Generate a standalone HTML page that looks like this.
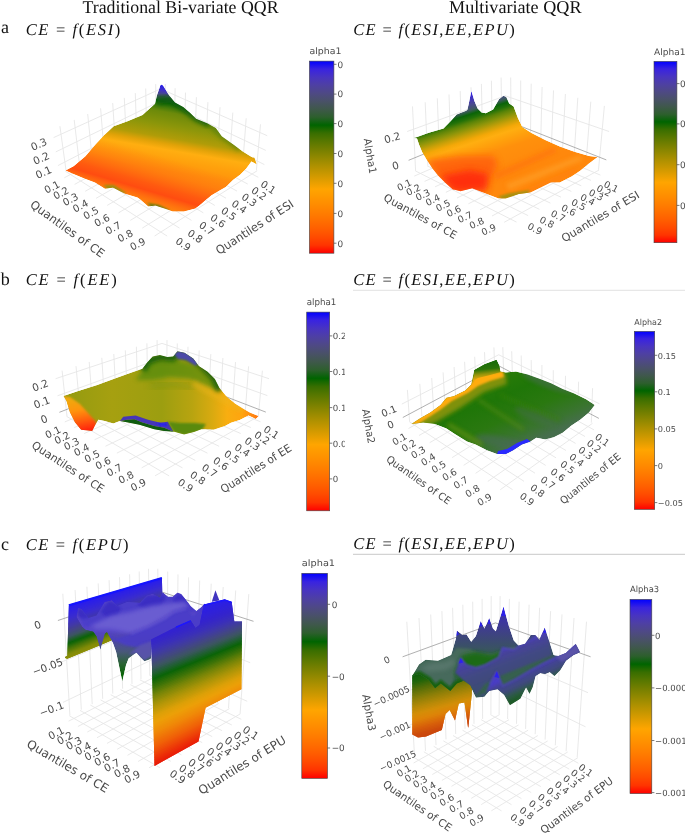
<!DOCTYPE html><html><head><meta charset="utf-8"><title>QQR figure</title><style>html,body{margin:0;padding:0;background:#fff}svg{display:block;will-change:transform}text{text-rendering:geometricPrecision}</style></head><body><svg width="685" height="834" viewBox="0 0 685 834"><defs><linearGradient id="cb" x1="0" y1="1" x2="0" y2="0"><stop offset="0.0000" stop-color="#ff0000"/><stop offset="0.0417" stop-color="#ff3400"/><stop offset="0.0833" stop-color="#ff4b00"/><stop offset="0.1250" stop-color="#ff5e00"/><stop offset="0.1667" stop-color="#ff6e00"/><stop offset="0.2083" stop-color="#ff7d00"/><stop offset="0.2500" stop-color="#ff8b00"/><stop offset="0.2917" stop-color="#ff9800"/><stop offset="0.3333" stop-color="#ffa500"/><stop offset="0.3750" stop-color="#e39e00"/><stop offset="0.4167" stop-color="#c79700"/><stop offset="0.4583" stop-color="#ac9000"/><stop offset="0.5000" stop-color="#908800"/><stop offset="0.5417" stop-color="#747f00"/><stop offset="0.5833" stop-color="#577700"/><stop offset="0.6250" stop-color="#386e00"/><stop offset="0.6667" stop-color="#006400"/><stop offset="0.7083" stop-color="#2d5f2d"/><stop offset="0.7500" stop-color="#3f584b"/><stop offset="0.7917" stop-color="#495168"/><stop offset="0.8333" stop-color="#4e4985"/><stop offset="0.8750" stop-color="#4e40a3"/><stop offset="0.9167" stop-color="#4834c1"/><stop offset="0.9583" stop-color="#3923e0"/><stop offset="1.0000" stop-color="#0000ff"/></linearGradient><filter id="b1" x="-20%" y="-20%" width="140%" height="140%"><feGaussianBlur stdDeviation="1"/></filter><filter id="b2" x="-20%" y="-20%" width="140%" height="140%"><feGaussianBlur stdDeviation="2"/></filter><filter id="b3" x="-30%" y="-30%" width="160%" height="160%"><feGaussianBlur stdDeviation="3.5"/></filter><filter id="b5" x="-30%" y="-30%" width="160%" height="160%"><feGaussianBlur stdDeviation="6"/></filter><clipPath id="leftclip"><rect x="0" y="0" width="344.8" height="834"/></clipPath><clipPath id="leftclipA"><rect x="0" y="0" width="344" height="834"/></clipPath><clipPath id="cA"><path d="M65.7,170.5 L73.7,166.2 L85.5,156.2 L95.0,145.0 L103.7,135.5 L113.7,126.2 L127.5,121.2 L142.5,115.0 L155.0,103.7 L157.0,95.0 L160.5,85.0 L162.0,84.5 L163.4,86.0 L169.2,95.4 L175.0,102.4 L183.2,107.0 L190.2,112.9 L196.1,118.7 L207.7,123.4 L215.9,128.1 L221.8,136.2 L233.4,144.4 L242.8,151.4 L252.1,157.3 L254.5,157.6 L256.9,164.5 L251.4,161.5 L246.3,168.6 L240.1,174.7 L233.0,179.9 L225.8,187.0 L218.7,191.1 L211.5,195.2 L205.4,200.3 L199.3,205.4 L195.2,208.5 L183.9,211.5 L172.7,211.5 L164.5,208.5 L155.3,205.4 L148.2,206.4 L140.0,199.3 L137.5,197.5 L125.0,193.7 L113.0,187.5 L105.0,188.7 L95.0,182.5 L85.0,178.7 L71.2,173.0Z"/></clipPath><linearGradient id="gA" gradientUnits="userSpaceOnUse" x1="162" y1="84" x2="140.75" y2="207.125"><stop offset="0.0" stop-color="#2018f0"/><stop offset="0.048" stop-color="#4030c8"/><stop offset="0.088" stop-color="#465078"/><stop offset="0.136" stop-color="#0a6408"/><stop offset="0.176" stop-color="#3f7a0a"/><stop offset="0.216" stop-color="#6c8a0a"/><stop offset="0.32" stop-color="#8c960a"/><stop offset="0.416" stop-color="#b09c08"/><stop offset="0.464" stop-color="#e0a208"/><stop offset="0.512" stop-color="#ffae10"/><stop offset="0.592" stop-color="#ffa00c"/><stop offset="0.68" stop-color="#ff920c"/><stop offset="1.0" stop-color="#ff8c0c"/></linearGradient><linearGradient id="gA2" gradientUnits="userSpaceOnUse" x1="77.2" y1="131.2" x2="61.8" y2="183"><stop offset="0" stop-color="#ff6a10" stop-opacity="0"/><stop offset="0.28" stop-color="#ff6410" stop-opacity="0.4"/><stop offset="0.55" stop-color="#ff5410" stop-opacity="0.9"/><stop offset="0.68" stop-color="#ff4c10" stop-opacity="1"/><stop offset="0.83" stop-color="#ff6010" stop-opacity="0.55"/><stop offset="1" stop-color="#ff7010" stop-opacity="0"/></linearGradient><clipPath id="cB"><path d="M413.4,138.0 L417.0,137.0 L428.9,132.8 L443.5,128.4 L450.8,121.1 L456.6,114.4 L465.4,110.9 L467.3,110.0 L468.8,103.4 L470.3,96.0 L471.4,91.1 L472.8,95.5 L474.5,101.3 L477.6,108.5 L481.6,112.6 L485.8,113.2 L493.1,109.4 L499.0,99.2 L503.4,95.7 L506.3,96.9 L509.2,103.6 L513.6,106.5 L518.0,118.2 L522.3,126.9 L531.1,132.8 L545.2,140.1 L559.8,146.5 L574.4,151.8 L589.0,156.1 L597.7,157.0 L589.0,163.4 L580.2,170.7 L571.5,176.6 L559.8,182.4 L551.0,182.4 L542.3,186.8 L530.6,192.6 L518.9,194.1 L505.8,198.5 L498.5,198.5 L486.8,194.1 L472.2,188.2 L460.5,191.2 L454.7,189.7 L452.8,189.6 L445.5,183.0 L438.2,175.7 L432.4,168.4 L426.5,159.6 L422.2,152.3 L419.2,145.0 L417.0,138.5Z"/></clipPath><linearGradient id="gB" gradientUnits="userSpaceOnUse" x1="404.748" y1="111.372" x2="431.94" y2="195.06"><stop offset="0.0" stop-color="#2018f0"/><stop offset="0.0795" stop-color="#4030c8"/><stop offset="0.1591" stop-color="#4a4a90"/><stop offset="0.2159" stop-color="#3f5a60"/><stop offset="0.2614" stop-color="#0a6408"/><stop offset="0.3068" stop-color="#247208"/><stop offset="0.3523" stop-color="#5a8408"/><stop offset="0.4091" stop-color="#8a940a"/><stop offset="0.4773" stop-color="#c8a008"/><stop offset="0.5341" stop-color="#f4a808"/><stop offset="0.5795" stop-color="#ffae10"/><stop offset="0.6591" stop-color="#ffa00c"/><stop offset="0.75" stop-color="#ff900c"/><stop offset="1.0" stop-color="#ff880c"/></linearGradient><clipPath id="cC"><path d="M63.5,396.0 L76.7,391.6 L97.2,384.9 L117.6,377.6 L132.2,372.3 L142.4,368.8 L146.8,363.0 L152.6,356.5 L159.9,355.1 L167.2,357.1 L173.1,356.5 L177.4,351.3 L184.5,352.7 L193.2,358.6 L198.8,365.9 L207.6,371.7 L214.9,379.0 L219.3,387.8 L226.6,396.5 L235.3,403.8 L242.6,408.2 L249.9,412.6 L258.7,416.1 L255.8,419.0 L248.5,415.5 L239.7,419.9 L231.0,422.8 L225.0,425.9 L213.8,429.7 L201.4,429.2 L194.0,432.1 L184.0,434.6 L174.1,431.7 L164.2,430.9 L154.3,429.2 L139.4,424.7 L129.4,422.7 L120.0,421.0 L113.3,423.5 L104.6,421.0 L98.4,419.7 L94.7,425.9 L92.2,430.9 L81.1,429.7 L74.9,422.2 L69.9,412.3 L66.5,401.0Z"/></clipPath><linearGradient id="gC" gradientUnits="userSpaceOnUse" x1="62" y1="400" x2="259" y2="400"><stop offset="0.0" stop-color="#929a10"/><stop offset="0.2538" stop-color="#a6a010"/><stop offset="0.5076" stop-color="#9c9e10"/><stop offset="0.6599" stop-color="#b8a410"/><stop offset="0.7614" stop-color="#d8aa10"/><stop offset="0.8376" stop-color="#f8ae10"/><stop offset="0.9137" stop-color="#ffa410"/><stop offset="1.0" stop-color="#ff7410"/></linearGradient><linearGradient id="gCdip" gradientUnits="userSpaceOnUse" x1="80" y1="398" x2="86" y2="431"><stop offset="0" stop-color="#f0a810"/><stop offset="0.35" stop-color="#ff9410"/><stop offset="0.7" stop-color="#ff5a10"/><stop offset="1" stop-color="#ff2010"/></linearGradient><clipPath id="cD"><path d="M411.4,424.0 L420.2,418.2 L430.4,412.4 L440.6,405.1 L446.4,397.8 L453.7,396.3 L465.4,390.5 L471.3,384.6 L474.2,370.0 L484.4,364.2 L496.5,359.8 L499.5,366.0 L500.4,371.5 L505.8,372.4 L516.0,371.5 L527.7,374.4 L539.4,378.8 L551.0,383.2 L562.7,389.0 L574.4,393.4 L586.1,399.2 L594.8,405.1 L589.0,412.4 L580.2,419.7 L571.5,425.5 L562.7,432.8 L553.9,437.2 L545.2,439.5 L536.4,437.8 L530.6,441.6 L521.8,444.5 L513.1,450.3 L505.8,454.1 L497.0,454.1 L486.8,450.3 L475.6,444.5 L466.9,441.6 L455.2,434.3 L446.4,428.4 L434.8,424.0 L423.1,422.6Z"/></clipPath><linearGradient id="gD" gradientUnits="userSpaceOnUse" x1="470" y1="385" x2="500" y2="455"><stop offset="0" stop-color="#2a7c08"/><stop offset="0.3" stop-color="#1f7608"/><stop offset="0.6" stop-color="#2a7810"/><stop offset="0.85" stop-color="#3a7430"/><stop offset="1" stop-color="#466e4c"/></linearGradient><linearGradient id="gDw" gradientUnits="userSpaceOnUse" x1="486" y1="360" x2="488" y2="380"><stop offset="0" stop-color="#14680a"/><stop offset="0.45" stop-color="#2a7408"/><stop offset="0.7" stop-color="#9a960a"/><stop offset="1" stop-color="#ffae10"/></linearGradient><clipPath id="cE1"><path d="M68.9,604.6 L161.9,577.3 L163.0,625.0 L115.0,639.0 L99.8,646.0 L82.1,653.3 L67.7,658.9 L64.1,657.6 L67.3,655.7Z"/></clipPath><clipPath id="cE2"><path d="M76.5,617.1 L78.1,608.3 L81.3,609.1 L88.5,617.9 L96.6,615.5 L104.6,601.9 L111.8,600.3 L117.4,605.9 L127.1,601.9 L139.9,602.7 L146.4,595.4 L152.8,593.8 L160.0,597.8 L162.6,592.1 L168.0,596.8 L172.7,596.8 L177.4,592.5 L181.2,594.0 L185.0,598.7 L190.7,606.3 L196.4,611.1 L201.2,607.3 L205.0,603.5 L206.0,632.0 L152.0,642.0 L151.0,658.6 L148.3,659.9 L144.4,661.2 L140.4,657.3 L136.5,652.7 L134.5,654.0 L128.6,658.6 L126.0,665.2 L122.3,681.6 L119.4,667.8 L116.1,652.0 L112.9,642.9 L106.9,632.3 L105.0,633.7 L100.4,650.1 L96.4,636.3 L93.1,631.7 L85.3,629.7 L82.1,626.8Z"/></clipPath><linearGradient id="gE2" gradientUnits="userSpaceOnUse" x1="0" y1="630" x2="0" y2="682"><stop offset="0" stop-color="#5646c8"/><stop offset="0.2" stop-color="#4e46a8"/><stop offset="0.42" stop-color="#485878"/><stop offset="0.65" stop-color="#2a6434"/><stop offset="0.85" stop-color="#0a6408"/><stop offset="1" stop-color="#0a6408"/></linearGradient><clipPath id="cE4"><path d="M151.3,639.5 L164.2,632.9 L175.0,627.5 L190.7,620.5 L195.5,628.1 L199.6,625.0 L203.8,604.7 L224.7,599.5 L231.7,602.1 L234.3,621.4 L242.0,621.4 L241.4,689.3 L205.6,707.7 L198.5,741.4 L154.5,765.9Z"/></clipPath><clipPath id="cF1"><path d="M412.3,675.0 L419.0,664.5 L440.0,660.0 L472.1,670.0 L472.1,683.5 L471.7,694.9 L468.2,728.5 L464.5,702.5 L458.8,703.4 L455.0,720.5 L449.7,710.1 L445.5,713.9 L441.8,730.0 L426.0,736.5 L418.0,737.5 L412.3,734.5Z"/></clipPath><clipPath id="cF2"><path d="M412.3,676.0 L419.0,664.5 L425.6,659.8 L438.0,660.7 L451.2,655.0 L456.0,638.0 L456.9,630.4 L462.6,635.1 L466.4,634.2 L471.2,641.8 L475.9,636.1 L480.7,620.9 L484.5,628.5 L489.2,618.0 L493.0,628.5 L495.8,631.3 L503.5,606.6 L509.0,626.5 L513.8,640.5 L518.5,645.5 L525.1,643.7 L530.8,635.1 L535.5,635.1 L539.3,639.9 L544.7,627.5 L548.8,639.9 L553.6,655.0 L558.3,656.0 L565.9,653.1 L571.6,647.4 L575.8,643.7 L580.1,652.2 L573.5,655.0 L565.9,660.7 L560.2,670.2 L554.5,675.9 L549.8,672.1 L545.0,674.0 L540.3,673.1 L535.5,675.9 L532.7,687.3 L529.5,693.9 L526.1,687.3 L520.4,698.7 L509.9,705.3 L504.2,694.9 L497.6,689.2 L489.2,691.1 L484.5,696.8 L475.9,697.7 L470.2,685.4 L463.6,680.7 L456.9,683.5 L450.3,691.1 L440.8,683.5 L435.1,688.3 L428.5,679.7 L419.0,674.0Z"/></clipPath><linearGradient id="gF0" gradientUnits="userSpaceOnUse" x1="0" y1="606" x2="0" y2="664"><stop offset="0" stop-color="#3226d8"/><stop offset="0.2" stop-color="#3c32a8"/><stop offset="0.4" stop-color="#3f3e8c"/><stop offset="0.6" stop-color="#3c4a72"/><stop offset="0.8" stop-color="#38585a"/><stop offset="1" stop-color="#36604e"/></linearGradient><linearGradient id="gF1" gradientUnits="userSpaceOnUse" x1="500" y1="648" x2="511.1" y2="677.8"><stop offset="0" stop-color="#4a3cc4"/><stop offset="0.18" stop-color="#46429c"/><stop offset="0.5" stop-color="#424884"/><stop offset="1" stop-color="#3c4c74"/></linearGradient><linearGradient id="gF2" gradientUnits="userSpaceOnUse" x1="530" y1="667" x2="540.4" y2="689.6"><stop offset="0" stop-color="#4a3cc4"/><stop offset="0.18" stop-color="#444298"/><stop offset="0.5" stop-color="#3e4a7a"/><stop offset="0.75" stop-color="#2c5a44"/><stop offset="1" stop-color="#1a5a20"/></linearGradient></defs><text x="82.5" y="13.0" font-family="'Liberation Serif',serif" font-size="18" text-anchor="start" fill="#111" textLength="196" lengthAdjust="spacingAndGlyphs">Traditional Bi-variate QQR</text>
<text x="449.0" y="13.0" font-family="'Liberation Serif',serif" font-size="18" text-anchor="start" fill="#111" textLength="132.5" lengthAdjust="spacingAndGlyphs">Multivariate QQR</text>
<text x="1.0" y="32.5" font-family="'Liberation Serif',serif" font-size="18" text-anchor="start" fill="#111">a</text>
<text x="0.8" y="284.8" font-family="'Liberation Serif',serif" font-size="18" text-anchor="start" fill="#111">b</text>
<text x="1.0" y="549.6" font-family="'Liberation Serif',serif" font-size="18" text-anchor="start" fill="#111">c</text>
<text x="25.7" y="34.5" font-family="'Liberation Serif',serif" font-size="16.5" text-anchor="start" fill="#111" font-style="italic" textLength="94.6" lengthAdjust="spacing">CE <tspan font-style="normal">=</tspan> f<tspan font-style="normal">(</tspan>ESI<tspan font-style="normal">)</tspan></text>
<text x="353.2" y="34.5" font-family="'Liberation Serif',serif" font-size="16.5" text-anchor="start" fill="#111" font-style="italic" textLength="161.5" lengthAdjust="spacing">CE <tspan font-style="normal">=</tspan> f<tspan font-style="normal">(</tspan>ESI<tspan font-style="normal">,</tspan>EE<tspan font-style="normal">,</tspan>EPU<tspan font-style="normal">)</tspan></text>
<text x="25.7" y="285.2" font-family="'Liberation Serif',serif" font-size="16.5" text-anchor="start" fill="#111" font-style="italic" textLength="91.1" lengthAdjust="spacing">CE <tspan font-style="normal">=</tspan> f<tspan font-style="normal">(</tspan>EE<tspan font-style="normal">)</tspan></text>
<text x="353.2" y="284.8" font-family="'Liberation Serif',serif" font-size="16.5" text-anchor="start" fill="#111" font-style="italic" textLength="161.5" lengthAdjust="spacing">CE <tspan font-style="normal">=</tspan> f<tspan font-style="normal">(</tspan>ESI<tspan font-style="normal">,</tspan>EE<tspan font-style="normal">,</tspan>EPU<tspan font-style="normal">)</tspan></text>
<text x="25.7" y="550.0" font-family="'Liberation Serif',serif" font-size="16.5" text-anchor="start" fill="#111" font-style="italic" textLength="102.8" lengthAdjust="spacing">CE <tspan font-style="normal">=</tspan> f<tspan font-style="normal">(</tspan>EPU<tspan font-style="normal">)</tspan></text>
<text x="353.2" y="549.0" font-family="'Liberation Serif',serif" font-size="16.5" text-anchor="start" fill="#111" font-style="italic" textLength="161.5" lengthAdjust="spacing">CE <tspan font-style="normal">=</tspan> f<tspan font-style="normal">(</tspan>ESI<tspan font-style="normal">,</tspan>EE<tspan font-style="normal">,</tspan>EPU<tspan font-style="normal">)</tspan></text>
<line x1="353" y1="290.3" x2="685" y2="290.3" stroke="#e2e2e2" stroke-width="1"/>
<line x1="353" y1="554.3" x2="685" y2="554.3" stroke="#c8c8c8" stroke-width="1"/>
<rect x="309.4" y="61.1" width="24.5" height="192.1" fill="url(#cb)"/>
<rect x="309.4" y="61.1" width="24.5" height="192.1" fill="none" stroke="#444" stroke-width="0.6"/>
<text x="309.5" y="54.0" font-family="'DejaVu Sans','Liberation Sans',sans-serif" font-size="9" text-anchor="start" fill="#4a4a4a" textLength="32" lengthAdjust="spacingAndGlyphs">alpha1</text>
<line x1="333.9" y1="64.3" x2="336.5" y2="64.3" stroke="#444" stroke-width="0.7"/>
<text x="337.6" y="67.6" font-family="'DejaVu Sans','Liberation Sans',sans-serif" font-size="8.9" text-anchor="start" fill="#4a4a4a" clip-path="url(#leftclipA)">0.35</text>
<line x1="333.9" y1="94.1" x2="336.5" y2="94.1" stroke="#444" stroke-width="0.7"/>
<text x="337.6" y="97.4" font-family="'DejaVu Sans','Liberation Sans',sans-serif" font-size="8.9" text-anchor="start" fill="#4a4a4a" clip-path="url(#leftclipA)">0.3</text>
<line x1="333.9" y1="123.6" x2="336.5" y2="123.6" stroke="#444" stroke-width="0.7"/>
<text x="337.6" y="126.9" font-family="'DejaVu Sans','Liberation Sans',sans-serif" font-size="8.9" text-anchor="start" fill="#4a4a4a" clip-path="url(#leftclipA)">0.25</text>
<line x1="333.9" y1="153.5" x2="336.5" y2="153.5" stroke="#444" stroke-width="0.7"/>
<text x="337.6" y="156.8" font-family="'DejaVu Sans','Liberation Sans',sans-serif" font-size="8.9" text-anchor="start" fill="#4a4a4a" clip-path="url(#leftclipA)">0.2</text>
<line x1="333.9" y1="183.3" x2="336.5" y2="183.3" stroke="#444" stroke-width="0.7"/>
<text x="337.6" y="186.6" font-family="'DejaVu Sans','Liberation Sans',sans-serif" font-size="8.9" text-anchor="start" fill="#4a4a4a" clip-path="url(#leftclipA)">0.15</text>
<line x1="333.9" y1="213.4" x2="336.5" y2="213.4" stroke="#444" stroke-width="0.7"/>
<text x="337.6" y="216.7" font-family="'DejaVu Sans','Liberation Sans',sans-serif" font-size="8.9" text-anchor="start" fill="#4a4a4a" clip-path="url(#leftclipA)">0.1</text>
<line x1="333.9" y1="243.2" x2="336.5" y2="243.2" stroke="#444" stroke-width="0.7"/>
<text x="337.6" y="246.5" font-family="'DejaVu Sans','Liberation Sans',sans-serif" font-size="8.9" text-anchor="start" fill="#4a4a4a" clip-path="url(#leftclipA)">0.05</text>
<rect x="654" y="61.4" width="22.9" height="181.3" fill="url(#cb)"/>
<rect x="654" y="61.4" width="22.9" height="181.3" fill="none" stroke="#444" stroke-width="0.6"/>
<text x="654.0" y="55.0" font-family="'DejaVu Sans','Liberation Sans',sans-serif" font-size="9" text-anchor="start" fill="#4a4a4a" textLength="31.5" lengthAdjust="spacingAndGlyphs">Alpha1</text>
<line x1="676.9" y1="83.6" x2="679.5" y2="83.6" stroke="#444" stroke-width="0.7"/>
<text x="680.0" y="86.9" font-family="'DejaVu Sans','Liberation Sans',sans-serif" font-size="8.9" text-anchor="start" fill="#4a4a4a">0.3</text>
<line x1="676.9" y1="123.9" x2="679.5" y2="123.9" stroke="#444" stroke-width="0.7"/>
<text x="680.0" y="127.2" font-family="'DejaVu Sans','Liberation Sans',sans-serif" font-size="8.9" text-anchor="start" fill="#4a4a4a">0.2</text>
<line x1="676.9" y1="164.7" x2="679.5" y2="164.7" stroke="#444" stroke-width="0.7"/>
<text x="680.0" y="168.0" font-family="'DejaVu Sans','Liberation Sans',sans-serif" font-size="8.9" text-anchor="start" fill="#4a4a4a">0.1</text>
<line x1="676.9" y1="205.4" x2="679.5" y2="205.4" stroke="#444" stroke-width="0.7"/>
<text x="680.0" y="208.7" font-family="'DejaVu Sans','Liberation Sans',sans-serif" font-size="8.9" text-anchor="start" fill="#4a4a4a">0</text>
<rect x="306.7" y="312.1" width="23.0" height="198.7" fill="url(#cb)"/>
<rect x="306.7" y="312.1" width="23.0" height="198.7" fill="none" stroke="#444" stroke-width="0.6"/>
<text x="306.7" y="305.0" font-family="'DejaVu Sans','Liberation Sans',sans-serif" font-size="9" text-anchor="start" fill="#4a4a4a" textLength="29.6" lengthAdjust="spacingAndGlyphs">alpha1</text>
<line x1="329.7" y1="335.9" x2="332.3" y2="335.9" stroke="#444" stroke-width="0.7"/>
<text x="332.8" y="339.2" font-family="'DejaVu Sans','Liberation Sans',sans-serif" font-size="8.6" text-anchor="start" fill="#4a4a4a" clip-path="url(#leftclip)">0.2</text>
<line x1="329.7" y1="371.5" x2="332.3" y2="371.5" stroke="#444" stroke-width="0.7"/>
<text x="332.8" y="374.8" font-family="'DejaVu Sans','Liberation Sans',sans-serif" font-size="8.6" text-anchor="start" fill="#4a4a4a" clip-path="url(#leftclip)">0.15</text>
<line x1="329.7" y1="407.6" x2="332.3" y2="407.6" stroke="#444" stroke-width="0.7"/>
<text x="332.8" y="410.9" font-family="'DejaVu Sans','Liberation Sans',sans-serif" font-size="8.6" text-anchor="start" fill="#4a4a4a" clip-path="url(#leftclip)">0.1</text>
<line x1="329.7" y1="443.2" x2="332.3" y2="443.2" stroke="#444" stroke-width="0.7"/>
<text x="332.8" y="446.5" font-family="'DejaVu Sans','Liberation Sans',sans-serif" font-size="8.6" text-anchor="start" fill="#4a4a4a" clip-path="url(#leftclip)">0.05</text>
<line x1="329.7" y1="478.9" x2="332.3" y2="478.9" stroke="#444" stroke-width="0.7"/>
<text x="332.8" y="482.2" font-family="'DejaVu Sans','Liberation Sans',sans-serif" font-size="8.6" text-anchor="start" fill="#4a4a4a" clip-path="url(#leftclip)">0</text>
<rect x="634.3" y="331.4" width="20.4" height="178.0" fill="url(#cb)"/>
<rect x="634.3" y="331.4" width="20.4" height="178.0" fill="none" stroke="#444" stroke-width="0.6"/>
<text x="634.3" y="325.1" font-family="'DejaVu Sans','Liberation Sans',sans-serif" font-size="8.2" text-anchor="start" fill="#4a4a4a" textLength="27.7" lengthAdjust="spacingAndGlyphs">Alpha2</text>
<line x1="654.7" y1="355.3" x2="657.3" y2="355.3" stroke="#444" stroke-width="0.7"/>
<text x="657.8" y="358.6" font-family="'DejaVu Sans','Liberation Sans',sans-serif" font-size="8.2" text-anchor="start" fill="#4a4a4a">0.15</text>
<line x1="654.7" y1="391.8" x2="657.3" y2="391.8" stroke="#444" stroke-width="0.7"/>
<text x="657.8" y="395.1" font-family="'DejaVu Sans','Liberation Sans',sans-serif" font-size="8.2" text-anchor="start" fill="#4a4a4a">0.1</text>
<line x1="654.7" y1="428.9" x2="657.3" y2="428.9" stroke="#444" stroke-width="0.7"/>
<text x="657.8" y="432.2" font-family="'DejaVu Sans','Liberation Sans',sans-serif" font-size="8.2" text-anchor="start" fill="#4a4a4a">0.05</text>
<line x1="654.7" y1="465.6" x2="657.3" y2="465.6" stroke="#444" stroke-width="0.7"/>
<text x="657.8" y="468.9" font-family="'DejaVu Sans','Liberation Sans',sans-serif" font-size="8.2" text-anchor="start" fill="#4a4a4a">0</text>
<line x1="654.7" y1="502.6" x2="657.3" y2="502.6" stroke="#444" stroke-width="0.7"/>
<text x="657.8" y="505.9" font-family="'DejaVu Sans','Liberation Sans',sans-serif" font-size="8.2" text-anchor="start" fill="#4a4a4a">−0.05</text>
<rect x="301.8" y="573.3" width="25.7" height="205.1" fill="url(#cb)"/>
<rect x="301.8" y="573.3" width="25.7" height="205.1" fill="none" stroke="#444" stroke-width="0.6"/>
<text x="301.8" y="565.7" font-family="'DejaVu Sans','Liberation Sans',sans-serif" font-size="9" text-anchor="start" fill="#4a4a4a" textLength="33.3" lengthAdjust="spacingAndGlyphs">alpha1</text>
<line x1="327.5" y1="604.3" x2="330.1" y2="604.3" stroke="#444" stroke-width="0.7"/>
<text x="331.7" y="607.6" font-family="'DejaVu Sans','Liberation Sans',sans-serif" font-size="8.9" text-anchor="start" fill="#4a4a4a" clip-path="url(#leftclip)">0</text>
<line x1="327.5" y1="676.2" x2="330.1" y2="676.2" stroke="#444" stroke-width="0.7"/>
<text x="331.7" y="679.5" font-family="'DejaVu Sans','Liberation Sans',sans-serif" font-size="8.9" text-anchor="start" fill="#4a4a4a" clip-path="url(#leftclip)">−0.05</text>
<line x1="327.5" y1="748" x2="330.1" y2="748" stroke="#444" stroke-width="0.7"/>
<text x="331.7" y="751.3" font-family="'DejaVu Sans','Liberation Sans',sans-serif" font-size="8.9" text-anchor="start" fill="#4a4a4a" clip-path="url(#leftclip)">−0.1</text>
<rect x="630" y="599.4" width="21.8" height="194.2" fill="url(#cb)"/>
<rect x="630" y="599.4" width="21.8" height="194.2" fill="none" stroke="#444" stroke-width="0.6"/>
<text x="630.0" y="592.1" font-family="'DejaVu Sans','Liberation Sans',sans-serif" font-size="8.5" text-anchor="start" fill="#4a4a4a" textLength="29.1" lengthAdjust="spacingAndGlyphs">Alpha3</text>
<line x1="651.8" y1="635.3" x2="654.4" y2="635.3" stroke="#444" stroke-width="0.7"/>
<text x="655.1" y="638.6" font-family="'DejaVu Sans','Liberation Sans',sans-serif" font-size="8.5" text-anchor="start" fill="#4a4a4a">0</text>
<line x1="651.8" y1="687.9" x2="654.4" y2="687.9" stroke="#444" stroke-width="0.7"/>
<text x="655.1" y="691.2" font-family="'DejaVu Sans','Liberation Sans',sans-serif" font-size="8.5" text-anchor="start" fill="#4a4a4a">−0.0005</text>
<line x1="651.8" y1="740.5" x2="654.4" y2="740.5" stroke="#444" stroke-width="0.7"/>
<text x="655.1" y="743.8" font-family="'DejaVu Sans','Liberation Sans',sans-serif" font-size="8.5" text-anchor="start" fill="#4a4a4a">−0.001</text>
<line x1="651.8" y1="792.6" x2="654.4" y2="792.6" stroke="#444" stroke-width="0.7"/>
<text x="655.1" y="795.9" font-family="'DejaVu Sans','Liberation Sans',sans-serif" font-size="8.5" text-anchor="start" fill="#4a4a4a">−0.0015</text>
<line x1="64.3" y1="177.8" x2="165.7" y2="123.2" stroke="#e6e6e6" stroke-width="0.9"/>
<line x1="74.6" y1="184.4" x2="176.2" y2="128.7" stroke="#e6e6e6" stroke-width="0.9"/>
<line x1="85.2" y1="191.3" x2="187.0" y2="134.3" stroke="#e6e6e6" stroke-width="0.9"/>
<line x1="96.1" y1="198.3" x2="198.1" y2="140.0" stroke="#e6e6e6" stroke-width="0.9"/>
<line x1="107.2" y1="205.4" x2="209.4" y2="145.9" stroke="#e6e6e6" stroke-width="0.9"/>
<line x1="118.6" y1="212.8" x2="220.9" y2="151.9" stroke="#e6e6e6" stroke-width="0.9"/>
<line x1="130.3" y1="220.4" x2="232.7" y2="158.0" stroke="#e6e6e6" stroke-width="0.9"/>
<line x1="142.3" y1="228.1" x2="244.8" y2="164.3" stroke="#e6e6e6" stroke-width="0.9"/>
<line x1="154.6" y1="236.0" x2="257.2" y2="170.7" stroke="#e6e6e6" stroke-width="0.9"/>
<line x1="155.3" y1="123.3" x2="258.3" y2="177.3" stroke="#e6e6e6" stroke-width="0.9"/>
<line x1="144.8" y1="128.8" x2="247.8" y2="184.1" stroke="#e6e6e6" stroke-width="0.9"/>
<line x1="134.1" y1="134.5" x2="237.0" y2="191.1" stroke="#e6e6e6" stroke-width="0.9"/>
<line x1="123.2" y1="140.4" x2="226.0" y2="198.2" stroke="#e6e6e6" stroke-width="0.9"/>
<line x1="112.1" y1="146.3" x2="214.8" y2="205.4" stroke="#e6e6e6" stroke-width="0.9"/>
<line x1="100.8" y1="152.3" x2="203.3" y2="212.8" stroke="#e6e6e6" stroke-width="0.9"/>
<line x1="89.2" y1="158.5" x2="191.5" y2="220.4" stroke="#e6e6e6" stroke-width="0.9"/>
<line x1="77.4" y1="164.8" x2="179.5" y2="228.1" stroke="#e6e6e6" stroke-width="0.9"/>
<line x1="65.3" y1="171.2" x2="167.2" y2="236.1" stroke="#e6e6e6" stroke-width="0.9"/>
<line x1="155.9" y1="122.9" x2="155.7" y2="84.1" stroke="#e6e6e6" stroke-width="0.9"/>
<line x1="146.5" y1="128.0" x2="145.7" y2="88.5" stroke="#e6e6e6" stroke-width="0.9"/>
<line x1="136.6" y1="133.2" x2="135.3" y2="93.1" stroke="#e6e6e6" stroke-width="0.9"/>
<line x1="126.3" y1="138.8" x2="124.3" y2="97.9" stroke="#e6e6e6" stroke-width="0.9"/>
<line x1="115.4" y1="144.5" x2="112.7" y2="103.0" stroke="#e6e6e6" stroke-width="0.9"/>
<line x1="104.0" y1="150.6" x2="100.6" y2="108.3" stroke="#e6e6e6" stroke-width="0.9"/>
<line x1="92.0" y1="157.0" x2="87.7" y2="114.0" stroke="#e6e6e6" stroke-width="0.9"/>
<line x1="79.4" y1="163.7" x2="74.2" y2="119.9" stroke="#e6e6e6" stroke-width="0.9"/>
<line x1="66.1" y1="170.8" x2="59.9" y2="126.2" stroke="#e6e6e6" stroke-width="0.9"/>
<line x1="57.9" y1="165.6" x2="160.5" y2="112.8" stroke="#e6e6e6" stroke-width="0.9"/>
<line x1="55.8" y1="151.9" x2="160.5" y2="101.0" stroke="#e6e6e6" stroke-width="0.9"/>
<line x1="53.6" y1="137.6" x2="160.5" y2="88.9" stroke="#e6e6e6" stroke-width="0.9"/>
<line x1="165.1" y1="122.9" x2="165.3" y2="84.0" stroke="#e6e6e6" stroke-width="0.9"/>
<line x1="174.6" y1="127.8" x2="175.1" y2="88.2" stroke="#e6e6e6" stroke-width="0.9"/>
<line x1="184.6" y1="133.0" x2="185.5" y2="92.6" stroke="#e6e6e6" stroke-width="0.9"/>
<line x1="195.1" y1="138.5" x2="196.4" y2="97.2" stroke="#e6e6e6" stroke-width="0.9"/>
<line x1="206.1" y1="144.2" x2="207.9" y2="102.1" stroke="#e6e6e6" stroke-width="0.9"/>
<line x1="217.7" y1="150.2" x2="220.0" y2="107.2" stroke="#e6e6e6" stroke-width="0.9"/>
<line x1="229.9" y1="156.6" x2="232.8" y2="112.6" stroke="#e6e6e6" stroke-width="0.9"/>
<line x1="242.8" y1="163.3" x2="246.2" y2="118.3" stroke="#e6e6e6" stroke-width="0.9"/>
<line x1="256.4" y1="170.3" x2="260.5" y2="124.3" stroke="#e6e6e6" stroke-width="0.9"/>
<line x1="160.5" y1="112.7" x2="264.4" y2="164.6" stroke="#e6e6e6" stroke-width="0.9"/>
<line x1="160.5" y1="100.9" x2="265.8" y2="150.4" stroke="#e6e6e6" stroke-width="0.9"/>
<line x1="160.5" y1="88.8" x2="267.2" y2="135.7" stroke="#e6e6e6" stroke-width="0.9"/>
<g clip-path="url(#cA)">
<path d="M65.7,170.5 L73.7,166.2 L85.5,156.2 L95.0,145.0 L103.7,135.5 L113.7,126.2 L127.5,121.2 L142.5,115.0 L155.0,103.7 L157.0,95.0 L160.5,85.0 L162.0,84.5 L163.4,86.0 L169.2,95.4 L175.0,102.4 L183.2,107.0 L190.2,112.9 L196.1,118.7 L207.7,123.4 L215.9,128.1 L221.8,136.2 L233.4,144.4 L242.8,151.4 L252.1,157.3 L254.5,157.6 L256.9,164.5 L251.4,161.5 L246.3,168.6 L240.1,174.7 L233.0,179.9 L225.8,187.0 L218.7,191.1 L211.5,195.2 L205.4,200.3 L199.3,205.4 L195.2,208.5 L183.9,211.5 L172.7,211.5 L164.5,208.5 L155.3,205.4 L148.2,206.4 L140.0,199.3 L137.5,197.5 L125.0,193.7 L113.0,187.5 L105.0,188.7 L95.0,182.5 L85.0,178.7 L71.2,173.0Z" fill="url(#gA)"/>
<path d="M65.7,170.5 L73.7,166.2 L85.5,156.2 L95.0,145.0 L103.7,135.5 L113.7,126.2 L127.5,121.2 L142.5,115.0 L155.0,103.7 L157.0,95.0 L160.5,85.0 L162.0,84.5 L163.4,86.0 L169.2,95.4 L175.0,102.4 L183.2,107.0 L190.2,112.9 L196.1,118.7 L207.7,123.4 L215.9,128.1 L221.8,136.2 L233.4,144.4 L242.8,151.4 L252.1,157.3 L254.5,157.6 L256.9,164.5 L251.4,161.5 L246.3,168.6 L240.1,174.7 L233.0,179.9 L225.8,187.0 L218.7,191.1 L211.5,195.2 L205.4,200.3 L199.3,205.4 L195.2,208.5 L183.9,211.5 L172.7,211.5 L164.5,208.5 L155.3,205.4 L148.2,206.4 L140.0,199.3 L137.5,197.5 L125.0,193.7 L113.0,187.5 L105.0,188.7 L95.0,182.5 L85.0,178.7 L71.2,173.0Z" fill="url(#gA2)"/>
<path d="M158,101 L170,99 L183,107 L197,118 L210,124" fill="none" stroke="#0a5c08" stroke-width="7" opacity="0.85" filter="url(#b2)"/>
<path d="M210,124 L222,136 L240,149" fill="none" stroke="#4a7a08" stroke-width="5" opacity="0.6" filter="url(#b2)"/>
<path d="M103.7,185 L113.7,185 L126.2,193 L120,194.5 L107.5,189.5Z" fill="#9a8e10" filter="url(#b1)"/>
<path d="M147,203 L158.7,205 L170,210.5 L162.5,211.5 L152.5,208.5Z" fill="#5f7a10" filter="url(#b1)"/>
</g>
<text font-family="'DejaVu Sans','Liberation Sans',sans-serif" font-size="10" text-anchor="middle" fill="#4a4a4a" transform="translate(52.0 187.0) rotate(-27.5)" y="3.6">0.1</text>
<text font-family="'DejaVu Sans','Liberation Sans',sans-serif" font-size="10" text-anchor="middle" fill="#4a4a4a" transform="translate(61.0 193.0) rotate(-27.5)" y="3.6">0.2</text>
<text font-family="'DejaVu Sans','Liberation Sans',sans-serif" font-size="10" text-anchor="middle" fill="#4a4a4a" transform="translate(70.4 199.3) rotate(-27.5)" y="3.6">0.3</text>
<text font-family="'DejaVu Sans','Liberation Sans',sans-serif" font-size="10" text-anchor="middle" fill="#4a4a4a" transform="translate(80.4 205.9) rotate(-27.5)" y="3.6">0.4</text>
<text font-family="'DejaVu Sans','Liberation Sans',sans-serif" font-size="10" text-anchor="middle" fill="#4a4a4a" transform="translate(90.9 212.9) rotate(-27.5)" y="3.6">0.5</text>
<text font-family="'DejaVu Sans','Liberation Sans',sans-serif" font-size="10" text-anchor="middle" fill="#4a4a4a" transform="translate(101.8 220.2) rotate(-27.5)" y="3.6">0.6</text>
<text font-family="'DejaVu Sans','Liberation Sans',sans-serif" font-size="10" text-anchor="middle" fill="#4a4a4a" transform="translate(113.2 227.8) rotate(-27.5)" y="3.6">0.7</text>
<text font-family="'DejaVu Sans','Liberation Sans',sans-serif" font-size="10" text-anchor="middle" fill="#4a4a4a" transform="translate(125.2 235.7) rotate(-27.5)" y="3.6">0.8</text>
<text font-family="'DejaVu Sans','Liberation Sans',sans-serif" font-size="10" text-anchor="middle" fill="#4a4a4a" transform="translate(137.6 244.0) rotate(-27.5)" y="3.6">0.9</text>
<text font-family="'DejaVu Sans','Liberation Sans',sans-serif" font-size="10" text-anchor="middle" fill="#4a4a4a" transform="translate(268.3 187.2) rotate(34)" y="3.6">0.1</text>
<text font-family="'DejaVu Sans','Liberation Sans',sans-serif" font-size="10" text-anchor="middle" fill="#4a4a4a" transform="translate(259.0 193.4) rotate(34)" y="3.6">0.2</text>
<text font-family="'DejaVu Sans','Liberation Sans',sans-serif" font-size="10" text-anchor="middle" fill="#4a4a4a" transform="translate(249.3 199.9) rotate(34)" y="3.6">0.3</text>
<text font-family="'DejaVu Sans','Liberation Sans',sans-serif" font-size="10" text-anchor="middle" fill="#4a4a4a" transform="translate(239.3 206.6) rotate(34)" y="3.6">0.4</text>
<text font-family="'DejaVu Sans','Liberation Sans',sans-serif" font-size="10" text-anchor="middle" fill="#4a4a4a" transform="translate(228.8 213.6) rotate(34)" y="3.6">0.5</text>
<text font-family="'DejaVu Sans','Liberation Sans',sans-serif" font-size="10" text-anchor="middle" fill="#4a4a4a" transform="translate(218.0 220.8) rotate(34)" y="3.6">0.6</text>
<text font-family="'DejaVu Sans','Liberation Sans',sans-serif" font-size="10" text-anchor="middle" fill="#4a4a4a" transform="translate(206.8 228.3) rotate(34)" y="3.6">0.7</text>
<text font-family="'DejaVu Sans','Liberation Sans',sans-serif" font-size="10" text-anchor="middle" fill="#4a4a4a" transform="translate(195.3 236.1) rotate(34)" y="3.6">0.8</text>
<text font-family="'DejaVu Sans','Liberation Sans',sans-serif" font-size="10" text-anchor="middle" fill="#4a4a4a" transform="translate(183.3 244.1) rotate(34)" y="3.6">0.9</text>
<text x="38.9" y="147.9" font-family="'DejaVu Sans','Liberation Sans',sans-serif" font-size="10.4" text-anchor="middle" fill="#4a4a4a" transform="rotate(-23.5 38.9 144.2)">0.3</text>
<text x="41.2" y="161.9" font-family="'DejaVu Sans','Liberation Sans',sans-serif" font-size="10.4" text-anchor="middle" fill="#4a4a4a" transform="rotate(-23.5 41.2 158.2)">0.2</text>
<text x="43.5" y="176.0" font-family="'DejaVu Sans','Liberation Sans',sans-serif" font-size="10.4" text-anchor="middle" fill="#4a4a4a" transform="rotate(-23.5 43.5 172.3)">0.1</text>
<text x="67.5" y="232.9" font-family="'DejaVu Sans','Liberation Sans',sans-serif" font-size="11.7" text-anchor="middle" fill="#4a4a4a" textLength="88.5" lengthAdjust="spacingAndGlyphs" transform="rotate(35.9 67.5 228.7)">Quantiles of CE</text>
<text x="254.5" y="231.2" font-family="'DejaVu Sans','Liberation Sans',sans-serif" font-size="11.7" text-anchor="middle" fill="#4a4a4a" textLength="90" lengthAdjust="spacingAndGlyphs" transform="rotate(-33 254.5 227)">Quantiles of ESI</text>
<line x1="414.3" y1="176.1" x2="511.5" y2="133.7" stroke="#e6e6e6" stroke-width="0.9"/>
<line x1="424.6" y1="181.4" x2="521.6" y2="137.9" stroke="#e6e6e6" stroke-width="0.9"/>
<line x1="435.1" y1="186.8" x2="531.9" y2="142.2" stroke="#e6e6e6" stroke-width="0.9"/>
<line x1="445.9" y1="192.3" x2="542.5" y2="146.5" stroke="#e6e6e6" stroke-width="0.9"/>
<line x1="457.0" y1="198.0" x2="553.3" y2="151.0" stroke="#e6e6e6" stroke-width="0.9"/>
<line x1="468.4" y1="203.8" x2="564.3" y2="155.6" stroke="#e6e6e6" stroke-width="0.9"/>
<line x1="480.0" y1="209.8" x2="575.6" y2="160.3" stroke="#e6e6e6" stroke-width="0.9"/>
<line x1="492.0" y1="216.0" x2="587.2" y2="165.1" stroke="#e6e6e6" stroke-width="0.9"/>
<line x1="504.2" y1="222.3" x2="599.0" y2="170.0" stroke="#e6e6e6" stroke-width="0.9"/>
<line x1="501.7" y1="133.7" x2="600.4" y2="175.1" stroke="#e6e6e6" stroke-width="0.9"/>
<line x1="491.9" y1="137.9" x2="591.0" y2="180.4" stroke="#e6e6e6" stroke-width="0.9"/>
<line x1="481.8" y1="142.2" x2="581.3" y2="185.8" stroke="#e6e6e6" stroke-width="0.9"/>
<line x1="471.5" y1="146.7" x2="571.3" y2="191.4" stroke="#e6e6e6" stroke-width="0.9"/>
<line x1="460.9" y1="151.3" x2="561.0" y2="197.2" stroke="#e6e6e6" stroke-width="0.9"/>
<line x1="450.0" y1="156.0" x2="550.4" y2="203.1" stroke="#e6e6e6" stroke-width="0.9"/>
<line x1="438.8" y1="160.8" x2="539.4" y2="209.3" stroke="#e6e6e6" stroke-width="0.9"/>
<line x1="427.2" y1="165.8" x2="528.1" y2="215.6" stroke="#e6e6e6" stroke-width="0.9"/>
<line x1="415.4" y1="170.9" x2="516.5" y2="222.1" stroke="#e6e6e6" stroke-width="0.9"/>
<line x1="501.9" y1="133.6" x2="501.1" y2="77.5" stroke="#e6e6e6" stroke-width="0.9"/>
<line x1="492.4" y1="137.7" x2="491.4" y2="80.7" stroke="#e6e6e6" stroke-width="0.9"/>
<line x1="482.7" y1="141.9" x2="481.4" y2="83.9" stroke="#e6e6e6" stroke-width="0.9"/>
<line x1="472.5" y1="146.3" x2="471.0" y2="87.3" stroke="#e6e6e6" stroke-width="0.9"/>
<line x1="462.0" y1="150.8" x2="460.2" y2="90.9" stroke="#e6e6e6" stroke-width="0.9"/>
<line x1="451.1" y1="155.5" x2="449.0" y2="94.5" stroke="#e6e6e6" stroke-width="0.9"/>
<line x1="439.7" y1="160.4" x2="437.3" y2="98.3" stroke="#e6e6e6" stroke-width="0.9"/>
<line x1="427.9" y1="165.5" x2="425.2" y2="102.3" stroke="#e6e6e6" stroke-width="0.9"/>
<line x1="415.6" y1="170.8" x2="412.5" y2="106.4" stroke="#e6e6e6" stroke-width="0.9"/>
<line x1="407.2" y1="131.5" x2="506.0" y2="95.6" stroke="#e6e6e6" stroke-width="0.9"/>
<line x1="511.1" y1="133.5" x2="510.7" y2="77.5" stroke="#e6e6e6" stroke-width="0.9"/>
<line x1="520.6" y1="137.4" x2="520.7" y2="80.5" stroke="#e6e6e6" stroke-width="0.9"/>
<line x1="530.4" y1="141.5" x2="531.2" y2="83.7" stroke="#e6e6e6" stroke-width="0.9"/>
<line x1="540.6" y1="145.8" x2="542.1" y2="87.0" stroke="#e6e6e6" stroke-width="0.9"/>
<line x1="551.3" y1="150.2" x2="553.5" y2="90.4" stroke="#e6e6e6" stroke-width="0.9"/>
<line x1="562.3" y1="154.8" x2="565.4" y2="94.0" stroke="#e6e6e6" stroke-width="0.9"/>
<line x1="573.9" y1="159.6" x2="577.8" y2="97.8" stroke="#e6e6e6" stroke-width="0.9"/>
<line x1="585.9" y1="164.6" x2="590.8" y2="101.7" stroke="#e6e6e6" stroke-width="0.9"/>
<line x1="598.5" y1="169.8" x2="604.4" y2="105.9" stroke="#e6e6e6" stroke-width="0.9"/>
<line x1="506.1" y1="96.1" x2="609.1" y2="131.5" stroke="#e6e6e6" stroke-width="0.9"/>
<line x1="408.6" y1="160.3" x2="506.4" y2="120.3" stroke="#969696" stroke-width="0.75"/>
<line x1="506.4" y1="120.6" x2="606.3" y2="159.9" stroke="#969696" stroke-width="0.75"/>
<g clip-path="url(#cB)">
<path d="M413.4,138.0 L417.0,137.0 L428.9,132.8 L443.5,128.4 L450.8,121.1 L456.6,114.4 L465.4,110.9 L467.3,110.0 L468.8,103.4 L470.3,96.0 L471.4,91.1 L472.8,95.5 L474.5,101.3 L477.6,108.5 L481.6,112.6 L485.8,113.2 L493.1,109.4 L499.0,99.2 L503.4,95.7 L506.3,96.9 L509.2,103.6 L513.6,106.5 L518.0,118.2 L522.3,126.9 L531.1,132.8 L545.2,140.1 L559.8,146.5 L574.4,151.8 L589.0,156.1 L597.7,157.0 L589.0,163.4 L580.2,170.7 L571.5,176.6 L559.8,182.4 L551.0,182.4 L542.3,186.8 L530.6,192.6 L518.9,194.1 L505.8,198.5 L498.5,198.5 L486.8,194.1 L472.2,188.2 L460.5,191.2 L454.7,189.7 L452.8,189.6 L445.5,183.0 L438.2,175.7 L432.4,168.4 L426.5,159.6 L422.2,152.3 L419.2,145.0 L417.0,138.5Z" fill="url(#gB)"/>
<path d="M426,160 L460,156 L494,156 L498,166 L490,178 L486,190 L454,192 L436,176Z" fill="#ff5c10" opacity="0.8" filter="url(#b3)"/>
<path d="M440,176 L470,170 L488,174 L486,190 L454,192Z" fill="#ff2c10" opacity="0.9" filter="url(#b3)"/>
<path d="M493,174 L554,147 L557,152 L496,180Z" fill="#ff7010" opacity="0.55" filter="url(#b2)"/>
<path d="M506,184 L580,155 L583,160 L509,190Z" fill="#ffa22a" opacity="0.6" filter="url(#b2)"/>
<path d="M520,192 L575,168 L578,172 L524,197Z" fill="#ff7a10" opacity="0.45" filter="url(#b2)"/>
<path d="M498,196.5 L508,193.5 L520,191.5 L530,190 L527,195 L512,198 L503,199.5Z" fill="#a89010" filter="url(#b1)"/>
</g>
<text font-family="'DejaVu Sans','Liberation Sans',sans-serif" font-size="9.4" text-anchor="middle" fill="#4a4a4a" transform="translate(404.2 184.9) rotate(-25)" y="3.4">0.1</text>
<text font-family="'DejaVu Sans','Liberation Sans',sans-serif" font-size="9.4" text-anchor="middle" fill="#4a4a4a" transform="translate(413.3 189.7) rotate(-25)" y="3.4">0.2</text>
<text font-family="'DejaVu Sans','Liberation Sans',sans-serif" font-size="9.4" text-anchor="middle" fill="#4a4a4a" transform="translate(422.7 194.7) rotate(-25)" y="3.4">0.3</text>
<text font-family="'DejaVu Sans','Liberation Sans',sans-serif" font-size="9.4" text-anchor="middle" fill="#4a4a4a" transform="translate(432.7 199.9) rotate(-25)" y="3.4">0.4</text>
<text font-family="'DejaVu Sans','Liberation Sans',sans-serif" font-size="9.4" text-anchor="middle" fill="#4a4a4a" transform="translate(443.0 205.4) rotate(-25)" y="3.4">0.5</text>
<text font-family="'DejaVu Sans','Liberation Sans',sans-serif" font-size="9.4" text-anchor="middle" fill="#4a4a4a" transform="translate(453.8 211.1) rotate(-25)" y="3.4">0.6</text>
<text font-family="'DejaVu Sans','Liberation Sans',sans-serif" font-size="9.4" text-anchor="middle" fill="#4a4a4a" transform="translate(464.9 217.0) rotate(-25)" y="3.4">0.7</text>
<text font-family="'DejaVu Sans','Liberation Sans',sans-serif" font-size="9.4" text-anchor="middle" fill="#4a4a4a" transform="translate(476.6 223.1) rotate(-25)" y="3.4">0.8</text>
<text font-family="'DejaVu Sans','Liberation Sans',sans-serif" font-size="9.4" text-anchor="middle" fill="#4a4a4a" transform="translate(488.6 229.5) rotate(-25)" y="3.4">0.9</text>
<text font-family="'DejaVu Sans','Liberation Sans',sans-serif" font-size="9.4" text-anchor="middle" fill="#4a4a4a" transform="translate(611.1 186.6) rotate(27)" y="3.4">0.1</text>
<text font-family="'DejaVu Sans','Liberation Sans',sans-serif" font-size="9.4" text-anchor="middle" fill="#4a4a4a" transform="translate(604.0 190.5) rotate(27)" y="3.4">0.2</text>
<text font-family="'DejaVu Sans','Liberation Sans',sans-serif" font-size="9.4" text-anchor="middle" fill="#4a4a4a" transform="translate(596.3 194.8) rotate(27)" y="3.4">0.3</text>
<text font-family="'DejaVu Sans','Liberation Sans',sans-serif" font-size="9.4" text-anchor="middle" fill="#4a4a4a" transform="translate(587.8 199.5) rotate(27)" y="3.4">0.4</text>
<text font-family="'DejaVu Sans','Liberation Sans',sans-serif" font-size="9.4" text-anchor="middle" fill="#4a4a4a" transform="translate(578.6 204.5) rotate(27)" y="3.4">0.5</text>
<text font-family="'DejaVu Sans','Liberation Sans',sans-serif" font-size="9.4" text-anchor="middle" fill="#4a4a4a" transform="translate(568.8 210.0) rotate(27)" y="3.4">0.6</text>
<text font-family="'DejaVu Sans','Liberation Sans',sans-serif" font-size="9.4" text-anchor="middle" fill="#4a4a4a" transform="translate(558.2 215.8) rotate(27)" y="3.4">0.7</text>
<text font-family="'DejaVu Sans','Liberation Sans',sans-serif" font-size="9.4" text-anchor="middle" fill="#4a4a4a" transform="translate(546.9 222.1) rotate(27)" y="3.4">0.8</text>
<text font-family="'DejaVu Sans','Liberation Sans',sans-serif" font-size="9.4" text-anchor="middle" fill="#4a4a4a" transform="translate(534.9 228.7) rotate(27)" y="3.4">0.9</text>
<text x="392.2" y="141.4" font-family="'DejaVu Sans','Liberation Sans',sans-serif" font-size="10.4" text-anchor="middle" fill="#4a4a4a" transform="rotate(-15 392.2 137.7)">0.2</text>
<text x="395.6" y="169.2" font-family="'DejaVu Sans','Liberation Sans',sans-serif" font-size="10.4" text-anchor="middle" fill="#4a4a4a" transform="rotate(-15 395.6 165.5)">0</text>
<text x="370.3" y="159.8" font-family="'DejaVu Sans','Liberation Sans',sans-serif" font-size="10.4" text-anchor="middle" fill="#4a4a4a" textLength="35.5" lengthAdjust="spacingAndGlyphs" transform="rotate(80.5 370.3 156)">Alpha1</text>
<text x="420.5" y="220.0" font-family="'DejaVu Sans','Liberation Sans',sans-serif" font-size="10.7" text-anchor="middle" fill="#4a4a4a" textLength="81.5" lengthAdjust="spacingAndGlyphs" transform="rotate(28.8 420.5 216)">Quantiles of CE</text>
<text x="600.1" y="220.4" font-family="'DejaVu Sans','Liberation Sans',sans-serif" font-size="11" text-anchor="middle" fill="#4a4a4a" textLength="88.6" lengthAdjust="spacingAndGlyphs" transform="rotate(-30.8 600.1 216.2)">Quantiles of ESI</text>
<line x1="64.8" y1="421.9" x2="166.8" y2="380.0" stroke="#e6e6e6" stroke-width="0.9"/>
<line x1="74.2" y1="427.6" x2="176.7" y2="383.9" stroke="#e6e6e6" stroke-width="0.9"/>
<line x1="84.2" y1="433.5" x2="187.0" y2="388.0" stroke="#e6e6e6" stroke-width="0.9"/>
<line x1="94.6" y1="439.7" x2="197.7" y2="392.2" stroke="#e6e6e6" stroke-width="0.9"/>
<line x1="105.5" y1="446.2" x2="208.8" y2="396.7" stroke="#e6e6e6" stroke-width="0.9"/>
<line x1="116.9" y1="453.1" x2="220.5" y2="401.3" stroke="#e6e6e6" stroke-width="0.9"/>
<line x1="129.0" y1="460.3" x2="232.6" y2="406.1" stroke="#e6e6e6" stroke-width="0.9"/>
<line x1="141.7" y1="467.8" x2="245.2" y2="411.1" stroke="#e6e6e6" stroke-width="0.9"/>
<line x1="155.1" y1="475.8" x2="258.4" y2="416.3" stroke="#e6e6e6" stroke-width="0.9"/>
<line x1="157.2" y1="380.0" x2="260.5" y2="421.8" stroke="#e6e6e6" stroke-width="0.9"/>
<line x1="147.3" y1="384.0" x2="250.8" y2="427.5" stroke="#e6e6e6" stroke-width="0.9"/>
<line x1="137.1" y1="388.2" x2="240.7" y2="433.5" stroke="#e6e6e6" stroke-width="0.9"/>
<line x1="126.5" y1="392.4" x2="230.1" y2="439.7" stroke="#e6e6e6" stroke-width="0.9"/>
<line x1="115.5" y1="396.9" x2="219.1" y2="446.3" stroke="#e6e6e6" stroke-width="0.9"/>
<line x1="104.0" y1="401.5" x2="207.5" y2="453.2" stroke="#e6e6e6" stroke-width="0.9"/>
<line x1="92.1" y1="406.3" x2="195.3" y2="460.4" stroke="#e6e6e6" stroke-width="0.9"/>
<line x1="79.7" y1="411.3" x2="182.5" y2="467.9" stroke="#e6e6e6" stroke-width="0.9"/>
<line x1="66.8" y1="416.5" x2="169.1" y2="475.9" stroke="#e6e6e6" stroke-width="0.9"/>
<line x1="157.3" y1="380.0" x2="157.1" y2="340.1" stroke="#e6e6e6" stroke-width="0.9"/>
<line x1="147.6" y1="383.9" x2="146.9" y2="343.3" stroke="#e6e6e6" stroke-width="0.9"/>
<line x1="137.5" y1="388.0" x2="136.4" y2="346.7" stroke="#e6e6e6" stroke-width="0.9"/>
<line x1="127.0" y1="392.2" x2="125.3" y2="350.3" stroke="#e6e6e6" stroke-width="0.9"/>
<line x1="116.0" y1="396.7" x2="113.8" y2="354.0" stroke="#e6e6e6" stroke-width="0.9"/>
<line x1="104.5" y1="401.3" x2="101.8" y2="357.8" stroke="#e6e6e6" stroke-width="0.9"/>
<line x1="92.6" y1="406.1" x2="89.2" y2="361.9" stroke="#e6e6e6" stroke-width="0.9"/>
<line x1="80.1" y1="411.2" x2="76.0" y2="366.1" stroke="#e6e6e6" stroke-width="0.9"/>
<line x1="67.0" y1="416.5" x2="62.1" y2="370.6" stroke="#e6e6e6" stroke-width="0.9"/>
<line x1="57.5" y1="395.8" x2="162.0" y2="358.0" stroke="#e6e6e6" stroke-width="0.9"/>
<line x1="55.6" y1="378.7" x2="162.0" y2="343.4" stroke="#e6e6e6" stroke-width="0.9"/>
<line x1="166.8" y1="380.0" x2="167.0" y2="340.1" stroke="#e6e6e6" stroke-width="0.9"/>
<line x1="176.8" y1="384.0" x2="177.3" y2="343.4" stroke="#e6e6e6" stroke-width="0.9"/>
<line x1="187.1" y1="388.0" x2="188.0" y2="346.8" stroke="#e6e6e6" stroke-width="0.9"/>
<line x1="197.8" y1="392.3" x2="199.2" y2="350.4" stroke="#e6e6e6" stroke-width="0.9"/>
<line x1="209.0" y1="396.7" x2="210.8" y2="354.1" stroke="#e6e6e6" stroke-width="0.9"/>
<line x1="220.6" y1="401.3" x2="222.9" y2="358.0" stroke="#e6e6e6" stroke-width="0.9"/>
<line x1="232.7" y1="406.1" x2="235.5" y2="362.1" stroke="#e6e6e6" stroke-width="0.9"/>
<line x1="245.3" y1="411.1" x2="248.6" y2="366.3" stroke="#e6e6e6" stroke-width="0.9"/>
<line x1="258.4" y1="416.3" x2="262.4" y2="370.7" stroke="#e6e6e6" stroke-width="0.9"/>
<line x1="162.0" y1="357.9" x2="267.4" y2="395.6" stroke="#e6e6e6" stroke-width="0.9"/>
<line x1="162.0" y1="343.4" x2="269.0" y2="378.7" stroke="#e6e6e6" stroke-width="0.9"/>
<line x1="59.4" y1="412.3" x2="162.0" y2="372.1" stroke="#969696" stroke-width="0.75"/>
<line x1="162.0" y1="372.1" x2="265.8" y2="412.1" stroke="#969696" stroke-width="0.75"/>
<g clip-path="url(#cC)">
<path d="M63.5,396.0 L76.7,391.6 L97.2,384.9 L117.6,377.6 L132.2,372.3 L142.4,368.8 L146.8,363.0 L152.6,356.5 L159.9,355.1 L167.2,357.1 L173.1,356.5 L177.4,351.3 L184.5,352.7 L193.2,358.6 L198.8,365.9 L207.6,371.7 L214.9,379.0 L219.3,387.8 L226.6,396.5 L235.3,403.8 L242.6,408.2 L249.9,412.6 L258.7,416.1 L255.8,419.0 L248.5,415.5 L239.7,419.9 L231.0,422.8 L225.0,425.9 L213.8,429.7 L201.4,429.2 L194.0,432.1 L184.0,434.6 L174.1,431.7 L164.2,430.9 L154.3,429.2 L139.4,424.7 L129.4,422.7 L120.0,421.0 L113.3,423.5 L104.6,421.0 L98.4,419.7 L94.7,425.9 L92.2,430.9 L81.1,429.7 L74.9,422.2 L69.9,412.3 L66.5,401.0Z" fill="url(#gC)"/>
<path d="M142,371 L150,361 L175,359 L196,365 L214,380 L221,393 L206,386 L190,379 L170,377 L152,380 L136,380Z" fill="#4a8810" opacity="0.65" filter="url(#b2)"/>
<path d="M150,386 L175,384 L195,388" fill="none" stroke="#6a9010" stroke-width="6" opacity="0.4" filter="url(#b3)"/>
<path d="M193,383 L243,410" fill="none" stroke="#ecb61a" stroke-width="6" opacity="0.5" filter="url(#b2)"/>
<path d="M143,370 L148,361 L160,357 L173,358 L180,353 L196,360 L214,378 L220,390" fill="none" stroke="#0a5c08" stroke-width="7" opacity="0.9" filter="url(#b2)"/>
<path d="M174,354 L178,351 L186,352 L198,362 L196,366 L186,360 L178,359Z" fill="#4c48a8" filter="url(#b1)"/>
<path d="M62,396 L70,397 L80,404 L88,413 L96,422 L96,432 L78,432 L66,412Z" fill="url(#gCdip)" filter="url(#b1)"/>
<path d="M120,421 L127,419.7 L134.4,419.2 L141.8,422.2 L154.3,425.9 L164.2,427.7 L173.6,431.7 L176,436 L150,432 L125,426Z" fill="#0f5c10"/>
<path d="M123.2,416.8 L135.6,415.5 L148.1,419.7 L160.5,422.7 L167.9,421.7 L173.6,431.7 L164.2,427.7 L154.3,425.9 L141.8,422.2 L134.4,419.2 L127,419.7 L120,421Z" fill="#4636b8"/>
<path d="M156,423 L161,423.2 L166,423.5 L168,426 L160,425.5Z" fill="#1c1cff" filter="url(#b1)"/>
<path d="M167.9,421.7 L180,423 L195,423 L206,424 L202,430 L194,433 L184,435 L174,432Z" fill="#5a8a10" filter="url(#b1)"/>
</g>
<text font-family="'DejaVu Sans','Liberation Sans',sans-serif" font-size="10" text-anchor="middle" fill="#4a4a4a" transform="translate(52.9 432.1) rotate(-26)" y="3.6">0.1</text>
<text font-family="'DejaVu Sans','Liberation Sans',sans-serif" font-size="10" text-anchor="middle" fill="#4a4a4a" transform="translate(62.0 437.7) rotate(-26)" y="3.6">0.2</text>
<text font-family="'DejaVu Sans','Liberation Sans',sans-serif" font-size="10" text-anchor="middle" fill="#4a4a4a" transform="translate(71.6 443.7) rotate(-26)" y="3.6">0.3</text>
<text font-family="'DejaVu Sans','Liberation Sans',sans-serif" font-size="10" text-anchor="middle" fill="#4a4a4a" transform="translate(81.6 449.8) rotate(-26)" y="3.6">0.4</text>
<text font-family="'DejaVu Sans','Liberation Sans',sans-serif" font-size="10" text-anchor="middle" fill="#4a4a4a" transform="translate(92.1 456.3) rotate(-26)" y="3.6">0.5</text>
<text font-family="'DejaVu Sans','Liberation Sans',sans-serif" font-size="10" text-anchor="middle" fill="#4a4a4a" transform="translate(103.0 463.0) rotate(-26)" y="3.6">0.6</text>
<text font-family="'DejaVu Sans','Liberation Sans',sans-serif" font-size="10" text-anchor="middle" fill="#4a4a4a" transform="translate(114.3 470.0) rotate(-26)" y="3.6">0.7</text>
<text font-family="'DejaVu Sans','Liberation Sans',sans-serif" font-size="10" text-anchor="middle" fill="#4a4a4a" transform="translate(126.1 477.3) rotate(-26)" y="3.6">0.8</text>
<text font-family="'DejaVu Sans','Liberation Sans',sans-serif" font-size="10" text-anchor="middle" fill="#4a4a4a" transform="translate(138.3 484.8) rotate(-26)" y="3.6">0.9</text>
<text font-family="'DejaVu Sans','Liberation Sans',sans-serif" font-size="10" text-anchor="middle" fill="#4a4a4a" transform="translate(271.5 432.2) rotate(33)" y="3.6">0.1</text>
<text font-family="'DejaVu Sans','Liberation Sans',sans-serif" font-size="10" text-anchor="middle" fill="#4a4a4a" transform="translate(262.2 437.9) rotate(33)" y="3.6">0.2</text>
<text font-family="'DejaVu Sans','Liberation Sans',sans-serif" font-size="10" text-anchor="middle" fill="#4a4a4a" transform="translate(252.5 443.9) rotate(33)" y="3.6">0.3</text>
<text font-family="'DejaVu Sans','Liberation Sans',sans-serif" font-size="10" text-anchor="middle" fill="#4a4a4a" transform="translate(242.4 450.2) rotate(33)" y="3.6">0.4</text>
<text font-family="'DejaVu Sans','Liberation Sans',sans-serif" font-size="10" text-anchor="middle" fill="#4a4a4a" transform="translate(231.9 456.7) rotate(33)" y="3.6">0.5</text>
<text font-family="'DejaVu Sans','Liberation Sans',sans-serif" font-size="10" text-anchor="middle" fill="#4a4a4a" transform="translate(220.9 463.5) rotate(33)" y="3.6">0.6</text>
<text font-family="'DejaVu Sans','Liberation Sans',sans-serif" font-size="10" text-anchor="middle" fill="#4a4a4a" transform="translate(209.6 470.5) rotate(33)" y="3.6">0.7</text>
<text font-family="'DejaVu Sans','Liberation Sans',sans-serif" font-size="10" text-anchor="middle" fill="#4a4a4a" transform="translate(197.8 477.8) rotate(33)" y="3.6">0.8</text>
<text font-family="'DejaVu Sans','Liberation Sans',sans-serif" font-size="10" text-anchor="middle" fill="#4a4a4a" transform="translate(185.6 485.4) rotate(33)" y="3.6">0.9</text>
<text x="40.2" y="389.1" font-family="'DejaVu Sans','Liberation Sans',sans-serif" font-size="10.4" text-anchor="middle" fill="#4a4a4a" transform="rotate(-20 40.2 385.4)">0.2</text>
<text x="41.7" y="406.1" font-family="'DejaVu Sans','Liberation Sans',sans-serif" font-size="10.4" text-anchor="middle" fill="#4a4a4a" transform="rotate(-20 41.7 402.4)">0.1</text>
<text x="44.2" y="422.9" font-family="'DejaVu Sans','Liberation Sans',sans-serif" font-size="10.4" text-anchor="middle" fill="#4a4a4a" transform="rotate(-20 44.2 419.2)">0</text>
<text x="68.2" y="470.8" font-family="'DejaVu Sans','Liberation Sans',sans-serif" font-size="11.2" text-anchor="middle" fill="#4a4a4a" textLength="84" lengthAdjust="spacingAndGlyphs" transform="rotate(33.2 68.2 466.7)">Quantiles of CE</text>
<text x="255.9" y="472.4" font-family="'DejaVu Sans','Liberation Sans',sans-serif" font-size="11.2" text-anchor="middle" fill="#4a4a4a" textLength="81.5" lengthAdjust="spacingAndGlyphs" transform="rotate(-32.2 255.9 468.3)">Quantiles of EE</text>
<line x1="408.5" y1="428.5" x2="504.5" y2="375.3" stroke="#e6e6e6" stroke-width="0.9"/>
<line x1="419.0" y1="435.5" x2="514.7" y2="380.9" stroke="#e6e6e6" stroke-width="0.9"/>
<line x1="429.7" y1="442.7" x2="525.1" y2="386.6" stroke="#e6e6e6" stroke-width="0.9"/>
<line x1="440.8" y1="450.1" x2="535.7" y2="392.4" stroke="#e6e6e6" stroke-width="0.9"/>
<line x1="452.1" y1="457.6" x2="546.6" y2="398.3" stroke="#e6e6e6" stroke-width="0.9"/>
<line x1="463.7" y1="465.3" x2="557.7" y2="404.3" stroke="#e6e6e6" stroke-width="0.9"/>
<line x1="475.6" y1="473.3" x2="569.0" y2="410.5" stroke="#e6e6e6" stroke-width="0.9"/>
<line x1="487.8" y1="481.4" x2="580.6" y2="416.8" stroke="#e6e6e6" stroke-width="0.9"/>
<line x1="500.3" y1="489.7" x2="592.5" y2="423.3" stroke="#e6e6e6" stroke-width="0.9"/>
<line x1="494.8" y1="375.2" x2="594.1" y2="429.9" stroke="#e6e6e6" stroke-width="0.9"/>
<line x1="485.2" y1="380.4" x2="585.0" y2="436.5" stroke="#e6e6e6" stroke-width="0.9"/>
<line x1="475.3" y1="385.8" x2="575.6" y2="443.4" stroke="#e6e6e6" stroke-width="0.9"/>
<line x1="465.1" y1="391.4" x2="566.0" y2="450.5" stroke="#e6e6e6" stroke-width="0.9"/>
<line x1="454.6" y1="397.1" x2="556.0" y2="457.8" stroke="#e6e6e6" stroke-width="0.9"/>
<line x1="443.8" y1="403.0" x2="545.7" y2="465.4" stroke="#e6e6e6" stroke-width="0.9"/>
<line x1="432.7" y1="409.1" x2="535.0" y2="473.2" stroke="#e6e6e6" stroke-width="0.9"/>
<line x1="421.2" y1="415.3" x2="524.0" y2="481.3" stroke="#e6e6e6" stroke-width="0.9"/>
<line x1="409.4" y1="421.8" x2="512.6" y2="489.7" stroke="#e6e6e6" stroke-width="0.9"/>
<line x1="495.0" y1="375.1" x2="493.9" y2="347.4" stroke="#e6e6e6" stroke-width="0.9"/>
<line x1="485.7" y1="380.1" x2="484.5" y2="352.1" stroke="#e6e6e6" stroke-width="0.9"/>
<line x1="476.0" y1="385.4" x2="474.7" y2="356.8" stroke="#e6e6e6" stroke-width="0.9"/>
<line x1="466.0" y1="390.9" x2="464.6" y2="361.8" stroke="#e6e6e6" stroke-width="0.9"/>
<line x1="455.6" y1="396.6" x2="454.1" y2="367.0" stroke="#e6e6e6" stroke-width="0.9"/>
<line x1="444.8" y1="402.5" x2="443.1" y2="372.4" stroke="#e6e6e6" stroke-width="0.9"/>
<line x1="433.5" y1="408.6" x2="431.7" y2="378.0" stroke="#e6e6e6" stroke-width="0.9"/>
<line x1="421.8" y1="415.0" x2="419.8" y2="383.8" stroke="#e6e6e6" stroke-width="0.9"/>
<line x1="409.6" y1="421.7" x2="407.4" y2="389.9" stroke="#e6e6e6" stroke-width="0.9"/>
<line x1="401.8" y1="404.1" x2="498.8" y2="354.7" stroke="#e6e6e6" stroke-width="0.9"/>
<line x1="503.7" y1="374.9" x2="502.8" y2="347.2" stroke="#e6e6e6" stroke-width="0.9"/>
<line x1="512.5" y1="379.7" x2="511.7" y2="351.2" stroke="#e6e6e6" stroke-width="0.9"/>
<line x1="521.7" y1="384.7" x2="521.2" y2="355.5" stroke="#e6e6e6" stroke-width="0.9"/>
<line x1="531.6" y1="390.1" x2="531.2" y2="360.1" stroke="#e6e6e6" stroke-width="0.9"/>
<line x1="542.0" y1="395.8" x2="541.9" y2="365.0" stroke="#e6e6e6" stroke-width="0.9"/>
<line x1="553.2" y1="401.9" x2="553.3" y2="370.2" stroke="#e6e6e6" stroke-width="0.9"/>
<line x1="565.0" y1="408.3" x2="565.5" y2="375.8" stroke="#e6e6e6" stroke-width="0.9"/>
<line x1="577.7" y1="415.3" x2="578.6" y2="381.7" stroke="#e6e6e6" stroke-width="0.9"/>
<line x1="591.3" y1="422.7" x2="592.6" y2="388.1" stroke="#e6e6e6" stroke-width="0.9"/>
<line x1="498.8" y1="354.8" x2="599.5" y2="403.8" stroke="#e6e6e6" stroke-width="0.9"/>
<line x1="402.8" y1="417.5" x2="499.3" y2="366.1" stroke="#969696" stroke-width="0.75"/>
<line x1="499.3" y1="366.1" x2="598.9" y2="418.4" stroke="#969696" stroke-width="0.75"/>
<g clip-path="url(#cD)">
<path d="M411.4,424.0 L420.2,418.2 L430.4,412.4 L440.6,405.1 L446.4,397.8 L453.7,396.3 L465.4,390.5 L471.3,384.6 L474.2,370.0 L484.4,364.2 L496.5,359.8 L499.5,366.0 L500.4,371.5 L505.8,372.4 L516.0,371.5 L527.7,374.4 L539.4,378.8 L551.0,383.2 L562.7,389.0 L574.4,393.4 L586.1,399.2 L594.8,405.1 L589.0,412.4 L580.2,419.7 L571.5,425.5 L562.7,432.8 L553.9,437.2 L545.2,439.5 L536.4,437.8 L530.6,441.6 L521.8,444.5 L513.1,450.3 L505.8,454.1 L497.0,454.1 L486.8,450.3 L475.6,444.5 L466.9,441.6 L455.2,434.3 L446.4,428.4 L434.8,424.0 L423.1,422.6Z" fill="url(#gD)"/>
<ellipse cx="548.4" cy="382.4" rx="28" ry="5.5" fill="#4a6e50" opacity="0.6" filter="url(#b2)" transform="rotate(20 548.4 382.4)"/>
<ellipse cx="504.8" cy="443.2" rx="30" ry="6" fill="#4a6a58" opacity="0.6" filter="url(#b2)" transform="rotate(12 504.8 443.2)"/>
<ellipse cx="535.2" cy="416.6" rx="22" ry="5.5" fill="#456e48" opacity="0.5" filter="url(#b2)" transform="rotate(22 535.2 416.6)"/>
<path d="M447.9,424.2 L482,445" stroke="#6e9610" stroke-width="4.5" opacity="0.6" fill="none" filter="url(#b2)"/>
<path d="M478.2,399.5 L523.8,429.9" stroke="#5c8e10" stroke-width="3.5" opacity="0.55" fill="none" filter="url(#b2)"/>
<path d="M500,395 L560,420" stroke="#3a8410" stroke-width="3" opacity="0.5" fill="none" filter="url(#b2)"/>
<path d="M408,426 L440,404 L471,384 L474,378 L505,372 L507,384 L484,392 L460,408 L436,422 L420,428Z" fill="#8a940c" opacity="0.9" filter="url(#b2)"/>
<path d="M408,425 L420,417 L440,403 L447,396 L466,388 L472,382 L475,376 L503,371 L504,377 L490,381 L478,386 L468,393 L452,401 L440,410 L426,419 L416,425Z" fill="#ffac10" filter="url(#b1)"/>
<path d="M473,381 L474.2,370 L484.4,364.2 L496.5,359.8 L499.5,366 L500.4,372 L490,375 L478,378Z" fill="url(#gDw)"/>
<path d="M497,454.5 L506,454.5 L514,450.5 L522,445 L531,442 L527,439 L517,443 L507,449 L498,451Z" fill="#2a2aff"/>
</g>
<text font-family="'DejaVu Sans','Liberation Sans',sans-serif" font-size="9.5" text-anchor="middle" fill="#4a4a4a" transform="translate(399.5 439.0) rotate(-31)" y="3.4">0.1</text>
<text font-family="'DejaVu Sans','Liberation Sans',sans-serif" font-size="9.5" text-anchor="middle" fill="#4a4a4a" transform="translate(408.6 445.5) rotate(-31)" y="3.4">0.2</text>
<text font-family="'DejaVu Sans','Liberation Sans',sans-serif" font-size="9.5" text-anchor="middle" fill="#4a4a4a" transform="translate(418.2 452.3) rotate(-31)" y="3.4">0.3</text>
<text font-family="'DejaVu Sans','Liberation Sans',sans-serif" font-size="9.5" text-anchor="middle" fill="#4a4a4a" transform="translate(428.2 459.4) rotate(-31)" y="3.4">0.4</text>
<text font-family="'DejaVu Sans','Liberation Sans',sans-serif" font-size="9.5" text-anchor="middle" fill="#4a4a4a" transform="translate(438.6 466.8) rotate(-31)" y="3.4">0.5</text>
<text font-family="'DejaVu Sans','Liberation Sans',sans-serif" font-size="9.5" text-anchor="middle" fill="#4a4a4a" transform="translate(449.4 474.5) rotate(-31)" y="3.4">0.6</text>
<text font-family="'DejaVu Sans','Liberation Sans',sans-serif" font-size="9.5" text-anchor="middle" fill="#4a4a4a" transform="translate(460.7 482.5) rotate(-31)" y="3.4">0.7</text>
<text font-family="'DejaVu Sans','Liberation Sans',sans-serif" font-size="9.5" text-anchor="middle" fill="#4a4a4a" transform="translate(472.4 490.9) rotate(-31)" y="3.4">0.8</text>
<text font-family="'DejaVu Sans','Liberation Sans',sans-serif" font-size="9.5" text-anchor="middle" fill="#4a4a4a" transform="translate(484.5 499.5) rotate(-31)" y="3.4">0.9</text>
<text font-family="'DejaVu Sans','Liberation Sans',sans-serif" font-size="9.5" text-anchor="middle" fill="#4a4a4a" transform="translate(602.3 439.9) rotate(36)" y="3.4">0.1</text>
<text font-family="'DejaVu Sans','Liberation Sans',sans-serif" font-size="9.5" text-anchor="middle" fill="#4a4a4a" transform="translate(594.1 446.3) rotate(36)" y="3.4">0.2</text>
<text font-family="'DejaVu Sans','Liberation Sans',sans-serif" font-size="9.5" text-anchor="middle" fill="#4a4a4a" transform="translate(585.6 453.0) rotate(36)" y="3.4">0.3</text>
<text font-family="'DejaVu Sans','Liberation Sans',sans-serif" font-size="9.5" text-anchor="middle" fill="#4a4a4a" transform="translate(576.7 460.0) rotate(36)" y="3.4">0.4</text>
<text font-family="'DejaVu Sans','Liberation Sans',sans-serif" font-size="9.5" text-anchor="middle" fill="#4a4a4a" transform="translate(567.5 467.3) rotate(36)" y="3.4">0.5</text>
<text font-family="'DejaVu Sans','Liberation Sans',sans-serif" font-size="9.5" text-anchor="middle" fill="#4a4a4a" transform="translate(557.9 474.8) rotate(36)" y="3.4">0.6</text>
<text font-family="'DejaVu Sans','Liberation Sans',sans-serif" font-size="9.5" text-anchor="middle" fill="#4a4a4a" transform="translate(547.9 482.6) rotate(36)" y="3.4">0.7</text>
<text font-family="'DejaVu Sans','Liberation Sans',sans-serif" font-size="9.5" text-anchor="middle" fill="#4a4a4a" transform="translate(537.6 490.7) rotate(36)" y="3.4">0.8</text>
<text font-family="'DejaVu Sans','Liberation Sans',sans-serif" font-size="9.5" text-anchor="middle" fill="#4a4a4a" transform="translate(527.0 499.1) rotate(36)" y="3.4">0.9</text>
<text x="388.9" y="414.5" font-family="'DejaVu Sans','Liberation Sans',sans-serif" font-size="9.8" text-anchor="middle" fill="#4a4a4a" transform="rotate(-22 388.9 411)">0.1</text>
<text x="390.5" y="428.0" font-family="'DejaVu Sans','Liberation Sans',sans-serif" font-size="9.8" text-anchor="middle" fill="#4a4a4a" transform="rotate(-22 390.5 424.5)">0</text>
<text x="368.7" y="429.9" font-family="'DejaVu Sans','Liberation Sans',sans-serif" font-size="10.2" text-anchor="middle" fill="#4a4a4a" textLength="35" lengthAdjust="spacingAndGlyphs" transform="rotate(79.6 368.7 426.2)">Alpha2</text>
<text x="418.8" y="483.5" font-family="'DejaVu Sans','Liberation Sans',sans-serif" font-size="10.3" text-anchor="middle" fill="#4a4a4a" textLength="76.5" lengthAdjust="spacingAndGlyphs" transform="rotate(35.3 418.8 479.7)">Quantiles of CE</text>
<text x="590.2" y="482.2" font-family="'DejaVu Sans','Liberation Sans',sans-serif" font-size="10.3" text-anchor="middle" fill="#4a4a4a" textLength="74.5" lengthAdjust="spacingAndGlyphs" transform="rotate(-38.9 590.2 478.4)">Quantiles of EE</text>
<line x1="68.6" y1="721.2" x2="158.7" y2="674.9" stroke="#e6e6e6" stroke-width="0.9"/>
<line x1="77.9" y1="726.5" x2="168.2" y2="679.5" stroke="#e6e6e6" stroke-width="0.9"/>
<line x1="87.3" y1="732.0" x2="177.9" y2="684.1" stroke="#e6e6e6" stroke-width="0.9"/>
<line x1="97.0" y1="737.7" x2="187.8" y2="688.8" stroke="#e6e6e6" stroke-width="0.9"/>
<line x1="107.0" y1="743.4" x2="197.9" y2="693.6" stroke="#e6e6e6" stroke-width="0.9"/>
<line x1="117.1" y1="749.3" x2="208.2" y2="698.5" stroke="#e6e6e6" stroke-width="0.9"/>
<line x1="127.5" y1="755.3" x2="218.7" y2="703.5" stroke="#e6e6e6" stroke-width="0.9"/>
<line x1="138.1" y1="761.5" x2="229.4" y2="708.6" stroke="#e6e6e6" stroke-width="0.9"/>
<line x1="149.0" y1="767.8" x2="240.4" y2="713.8" stroke="#e6e6e6" stroke-width="0.9"/>
<line x1="149.3" y1="675.1" x2="241.3" y2="719.3" stroke="#e6e6e6" stroke-width="0.9"/>
<line x1="139.9" y1="679.9" x2="231.8" y2="725.0" stroke="#e6e6e6" stroke-width="0.9"/>
<line x1="130.4" y1="684.7" x2="222.1" y2="730.7" stroke="#e6e6e6" stroke-width="0.9"/>
<line x1="120.6" y1="689.7" x2="212.2" y2="736.6" stroke="#e6e6e6" stroke-width="0.9"/>
<line x1="110.7" y1="694.7" x2="202.2" y2="742.6" stroke="#e6e6e6" stroke-width="0.9"/>
<line x1="100.6" y1="699.9" x2="191.9" y2="748.7" stroke="#e6e6e6" stroke-width="0.9"/>
<line x1="90.4" y1="705.1" x2="181.5" y2="754.9" stroke="#e6e6e6" stroke-width="0.9"/>
<line x1="80.0" y1="710.4" x2="170.8" y2="761.3" stroke="#e6e6e6" stroke-width="0.9"/>
<line x1="69.4" y1="715.8" x2="160.0" y2="767.7" stroke="#e6e6e6" stroke-width="0.9"/>
<line x1="149.8" y1="674.9" x2="148.5" y2="568.8" stroke="#e6e6e6" stroke-width="0.9"/>
<line x1="141.0" y1="679.3" x2="139.2" y2="571.5" stroke="#e6e6e6" stroke-width="0.9"/>
<line x1="132.0" y1="683.9" x2="129.6" y2="574.3" stroke="#e6e6e6" stroke-width="0.9"/>
<line x1="122.6" y1="688.7" x2="119.5" y2="577.2" stroke="#e6e6e6" stroke-width="0.9"/>
<line x1="112.8" y1="693.6" x2="109.1" y2="580.2" stroke="#e6e6e6" stroke-width="0.9"/>
<line x1="102.7" y1="698.8" x2="98.2" y2="583.4" stroke="#e6e6e6" stroke-width="0.9"/>
<line x1="92.2" y1="704.1" x2="86.9" y2="586.7" stroke="#e6e6e6" stroke-width="0.9"/>
<line x1="81.3" y1="709.7" x2="75.1" y2="590.1" stroke="#e6e6e6" stroke-width="0.9"/>
<line x1="69.9" y1="715.5" x2="62.8" y2="593.7" stroke="#e6e6e6" stroke-width="0.9"/>
<line x1="63.0" y1="702.4" x2="153.9" y2="658.8" stroke="#e6e6e6" stroke-width="0.9"/>
<line x1="60.5" y1="662.4" x2="153.5" y2="624.4" stroke="#e6e6e6" stroke-width="0.9"/>
<line x1="158.4" y1="674.8" x2="157.8" y2="568.8" stroke="#e6e6e6" stroke-width="0.9"/>
<line x1="167.4" y1="679.1" x2="167.7" y2="571.6" stroke="#e6e6e6" stroke-width="0.9"/>
<line x1="176.7" y1="683.5" x2="178.0" y2="574.4" stroke="#e6e6e6" stroke-width="0.9"/>
<line x1="186.3" y1="688.1" x2="188.6" y2="577.4" stroke="#e6e6e6" stroke-width="0.9"/>
<line x1="196.3" y1="692.9" x2="199.7" y2="580.5" stroke="#e6e6e6" stroke-width="0.9"/>
<line x1="206.7" y1="697.8" x2="211.2" y2="583.7" stroke="#e6e6e6" stroke-width="0.9"/>
<line x1="217.4" y1="702.9" x2="223.2" y2="587.0" stroke="#e6e6e6" stroke-width="0.9"/>
<line x1="228.5" y1="708.2" x2="235.7" y2="590.5" stroke="#e6e6e6" stroke-width="0.9"/>
<line x1="240.1" y1="713.7" x2="248.8" y2="594.1" stroke="#e6e6e6" stroke-width="0.9"/>
<line x1="153.9" y1="659.2" x2="247.2" y2="701.3" stroke="#e6e6e6" stroke-width="0.9"/>
<line x1="153.5" y1="625.3" x2="250.2" y2="662.7" stroke="#e6e6e6" stroke-width="0.9"/>
<line x1="57.9" y1="620.5" x2="153.2" y2="588.7" stroke="#969696" stroke-width="0.75"/>
<line x1="153.2" y1="589.3" x2="253.5" y2="621.3" stroke="#969696" stroke-width="0.75"/>
<g clip-path="url(#cE1)">
<polygon points="65.0,605.5 165.0,576.4 165.0,578.3 65.0,607.9" fill="#1e16fa"/>
<polygon points="65.0,606.7 165.0,577.4 165.0,579.3 65.0,609.2" fill="#251bf1"/>
<polygon points="65.0,607.9 165.0,578.3 165.0,580.2 65.0,610.4" fill="#2b1ee9"/>
<polygon points="65.0,609.2 165.0,579.3 165.0,581.2 65.0,611.7" fill="#2c20e6"/>
<polygon points="65.0,610.4 165.0,580.2 165.0,582.1 65.0,612.9" fill="#2e22e3"/>
<polygon points="65.0,611.7 165.0,581.2 165.0,583.1 65.0,614.1" fill="#3023e0"/>
<polygon points="65.0,612.9 165.0,582.1 165.0,584.0 65.0,615.4" fill="#3225dd"/>
<polygon points="65.0,614.1 165.0,583.1 165.0,585.0 65.0,616.6" fill="#3426da"/>
<polygon points="65.0,615.4 165.0,584.0 165.0,585.9 65.0,617.8" fill="#3528d7"/>
<polygon points="65.0,616.6 165.0,585.0 165.0,586.9 65.0,619.1" fill="#372ad4"/>
<polygon points="65.0,617.8 165.0,585.9 165.0,587.8 65.0,620.3" fill="#392bd1"/>
<polygon points="65.0,619.1 165.0,586.9 165.0,588.8 65.0,621.5" fill="#3b2dcd"/>
<polygon points="65.0,620.3 165.0,587.8 165.0,589.7 65.0,622.8" fill="#3c2fc7"/>
<polygon points="65.0,621.5 165.0,588.8 165.0,590.7 65.0,624.0" fill="#3d31c1"/>
<polygon points="65.0,622.8 165.0,589.7 165.0,591.6 65.0,625.2" fill="#3e32bb"/>
<polygon points="65.0,624.0 165.0,590.7 165.0,592.6 65.0,626.5" fill="#3f34b5"/>
<polygon points="65.0,625.2 165.0,591.6 165.0,593.5 65.0,627.7" fill="#4136af"/>
<polygon points="65.0,626.5 165.0,592.6 165.0,594.5 65.0,629.0" fill="#4238a9"/>
<polygon points="65.0,627.7 165.0,593.5 165.0,595.4 65.0,630.2" fill="#433ba1"/>
<polygon points="65.0,629.0 165.0,594.5 165.0,596.4 65.0,631.4" fill="#433e98"/>
<polygon points="65.0,630.2 165.0,595.4 165.0,597.3 65.0,632.7" fill="#444190"/>
<polygon points="65.0,631.4 165.0,596.4 165.0,598.3 65.0,633.9" fill="#454488"/>
<polygon points="65.0,632.7 165.0,597.3 165.0,599.2 65.0,635.1" fill="#444880"/>
<polygon points="65.0,633.9 165.0,598.3 165.0,600.2 65.0,636.4" fill="#424b78"/>
<polygon points="65.0,635.1 165.0,599.2 165.0,601.1 65.0,637.6" fill="#404f70"/>
<polygon points="65.0,636.4 165.0,600.2 165.0,602.1 65.0,638.8" fill="#3e5367"/>
<polygon points="65.0,637.6 165.0,601.1 165.0,603.0 65.0,640.1" fill="#3b565e"/>
<polygon points="65.0,638.8 165.0,602.1 165.0,604.0 65.0,641.3" fill="#31594c"/>
<polygon points="65.0,640.1 165.0,603.0 165.0,604.9 65.0,642.5" fill="#285c3a"/>
<polygon points="65.0,641.3 165.0,604.0 165.0,605.9 65.0,643.8" fill="#1e5f28"/>
<polygon points="65.0,642.5 165.0,604.9 165.0,606.8 65.0,645.0" fill="#156118"/>
<polygon points="65.0,643.8 165.0,605.9 165.0,607.8 65.0,646.3" fill="#0c640a"/>
<polygon points="65.0,645.0 165.0,606.8 165.0,608.7 65.0,647.5" fill="#166708"/>
<polygon points="65.0,646.3 165.0,607.8 165.0,609.7 65.0,648.7" fill="#246b08"/>
<polygon points="65.0,647.5 165.0,608.7 165.0,610.6 65.0,650.0" fill="#337008"/>
<polygon points="65.0,648.7 165.0,609.7 165.0,611.6 65.0,651.2" fill="#427408"/>
<polygon points="65.0,650.0 165.0,610.6 165.0,612.5 65.0,652.4" fill="#4f7808"/>
<polygon points="65.0,651.2 165.0,611.6 165.0,613.5 65.0,653.7" fill="#5b7c08"/>
<polygon points="65.0,652.4 165.0,612.5 165.0,614.4 65.0,654.9" fill="#678108"/>
<polygon points="65.0,653.7 165.0,613.5 165.0,615.4 65.0,656.1" fill="#738608"/>
<polygon points="65.0,654.9 165.0,614.4 165.0,616.4 65.0,657.4" fill="#7f8a08"/>
<polygon points="65.0,656.1 165.0,615.4 165.0,617.3 65.0,658.6" fill="#848c08"/>
<polygon points="65.0,657.4 165.0,616.4 165.0,618.3 65.0,659.8" fill="#888d08"/>
<polygon points="65.0,658.6 165.0,617.3 165.0,618.3 65.0,659.8" fill="#8d8f08"/>
</g>
<path d="M68.9,605.3 L161.9,578" stroke="#1414ff" stroke-width="2.2" fill="none"/>
<g clip-path="url(#cE2)">
<path d="M76.5,617.1 L78.1,608.3 L81.3,609.1 L88.5,617.9 L96.6,615.5 L104.6,601.9 L111.8,600.3 L117.4,605.9 L127.1,601.9 L139.9,602.7 L146.4,595.4 L152.8,593.8 L160.0,597.8 L162.6,592.1 L168.0,596.8 L172.7,596.8 L177.4,592.5 L181.2,594.0 L185.0,598.7 L190.7,606.3 L196.4,611.1 L201.2,607.3 L205.0,603.5 L206.0,632.0 L152.0,642.0 L151.0,658.6 L148.3,659.9 L144.4,661.2 L140.4,657.3 L136.5,652.7 L134.5,654.0 L128.6,658.6 L126.0,665.2 L122.3,681.6 L119.4,667.8 L116.1,652.0 L112.9,642.9 L106.9,632.3 L105.0,633.7 L100.4,650.1 L96.4,636.3 L93.1,631.7 L85.3,629.7 L82.1,626.8Z" fill="url(#gE2)"/>
<path d="M76,607 L206,590 L206,612 L150,612 L100,624 L84,627Z" fill="#4a3cca" opacity="0.8" filter="url(#b1)"/>
<path d="M100.7,611.6 L108.8,601 L113.9,602.4 L121.1,608.5 L117,615.7 L106.8,617.7Z" fill="#392bc2" opacity="0.8" filter="url(#b1)"/>
<path d="M137.4,605.4 L147.7,594.8 L151.8,595.6 L162,592.8 L166.1,597.3 L159.9,607.5 L147.7,609.5Z" fill="#392bc2" opacity="0.8" filter="url(#b1)"/>
<path d="M172.2,601.3 L178.3,593.6 L184.4,597.3 L192.6,607.5 L184.4,609.5Z" fill="#392bc2" opacity="0.8" filter="url(#b1)"/>
<path d="M78.2,607.9 L82.3,609.5 L89.4,617.7 L82.3,618.7 L77.8,615.7Z" fill="#392bc2" opacity="0.8" filter="url(#b1)"/>
<path d="M90.4,625.9 L110.9,615.7 L131.3,611.6 L151.8,605.4 L168.1,603.4 L184.4,601.3 L190.6,607.5 L176.3,610.5 L164,617.7 L147.7,626.9 L131.3,633 L110.9,628.9 L96.6,628.9Z" fill="#6c5ed2" opacity="0.95" filter="url(#b2)"/>
<path d="M106,634 L117,638 L131,634 L148,627 L164,619 L174,612 L186,609 L193,616 L203,607 L206,632 L152,642 L151,647 L135,647 L125,645 L113,639Z" fill="#4a3cc8" opacity="0.85" filter="url(#b1)"/>
<path d="M131,634 L148,627 L164,619 L174,612 L186,609" fill="none" stroke="#6456d0" stroke-width="1.6" opacity="0.9" filter="url(#b1)"/>
<path d="M128,655 L140,645 L152,641 L152,656 L144,661 L136,653Z" fill="#5a52b0" opacity="0.9" filter="url(#b1)"/>
</g>
<polygon points="211.8,601.8 215.4,590.2 219.4,600.6" fill="#4034c0"/>
<g clip-path="url(#cE4)">
<polygon points="148.5,610.1 245.0,580.1 245.0,583.0 148.5,613.5" fill="#1c14fa"/>
<polygon points="148.5,611.8 245.0,581.5 245.0,584.4 148.5,615.1" fill="#1c14fa"/>
<polygon points="148.5,613.5 245.0,583.0 245.0,585.9 148.5,616.8" fill="#1c14fa"/>
<polygon points="148.5,615.1 245.0,584.4 245.0,587.3 148.5,618.5" fill="#1d14f9"/>
<polygon points="148.5,616.8 245.0,585.9 245.0,588.8 148.5,620.1" fill="#1f16f6"/>
<polygon points="148.5,618.5 245.0,587.3 245.0,590.2 148.5,621.8" fill="#2218f2"/>
<polygon points="148.5,620.1 245.0,588.8 245.0,591.7 148.5,623.4" fill="#241aef"/>
<polygon points="148.5,621.8 245.0,590.2 245.0,593.1 148.5,625.1" fill="#271cec"/>
<polygon points="148.5,623.4 245.0,591.7 245.0,594.6 148.5,626.8" fill="#2a1ee9"/>
<polygon points="148.5,625.1 245.0,593.1 245.0,596.0 148.5,628.4" fill="#2b1fe6"/>
<polygon points="148.5,626.8 245.0,594.6 245.0,597.5 148.5,630.1" fill="#2c1fe3"/>
<polygon points="148.5,628.4 245.0,596.0 245.0,598.9 148.5,631.8" fill="#2d20e0"/>
<polygon points="148.5,630.1 245.0,597.5 245.0,600.4 148.5,633.4" fill="#2e20dd"/>
<polygon points="148.5,631.8 245.0,598.9 245.0,601.8 148.5,635.1" fill="#2f21da"/>
<polygon points="148.5,633.4 245.0,600.4 245.0,603.3 148.5,636.7" fill="#3022d8"/>
<polygon points="148.5,635.1 245.0,601.8 245.0,604.7 148.5,638.4" fill="#3122d5"/>
<polygon points="148.5,636.7 245.0,603.3 245.0,606.2 148.5,640.1" fill="#3223d2"/>
<polygon points="148.5,638.4 245.0,604.7 245.0,607.6 148.5,641.7" fill="#3323cf"/>
<polygon points="148.5,640.1 245.0,606.2 245.0,609.1 148.5,643.4" fill="#3424cc"/>
<polygon points="148.5,641.7 245.0,607.6 245.0,610.5 148.5,645.1" fill="#3526c9"/>
<polygon points="148.5,643.4 245.0,609.1 245.0,612.0 148.5,646.7" fill="#3628c5"/>
<polygon points="148.5,645.1 245.0,610.5 245.0,613.4 148.5,648.4" fill="#382ac2"/>
<polygon points="148.5,646.7 245.0,612.0 245.0,614.9 148.5,650.1" fill="#392dbe"/>
<polygon points="148.5,648.4 245.0,613.4 245.0,616.3 148.5,651.7" fill="#3a2fba"/>
<polygon points="148.5,650.1 245.0,614.9 245.0,617.8 148.5,653.4" fill="#3c32b5"/>
<polygon points="148.5,651.7 245.0,616.3 245.0,619.2 148.5,655.0" fill="#3e35af"/>
<polygon points="148.5,653.4 245.0,617.8 245.0,620.7 148.5,656.7" fill="#3f38a9"/>
<polygon points="148.5,655.0 245.0,619.2 245.0,622.1 148.5,658.4" fill="#403ba2"/>
<polygon points="148.5,656.7 245.0,620.7 245.0,623.6 148.5,660.0" fill="#413e9a"/>
<polygon points="148.5,658.4 245.0,622.1 245.0,625.0 148.5,661.7" fill="#424192"/>
<polygon points="148.5,660.0 245.0,623.6 245.0,626.5 148.5,663.4" fill="#424589"/>
<polygon points="148.5,661.7 245.0,625.0 245.0,627.9 148.5,665.0" fill="#434881"/>
<polygon points="148.5,663.4 245.0,626.5 245.0,629.4 148.5,666.7" fill="#414b79"/>
<polygon points="148.5,665.0 245.0,627.9 245.0,630.8 148.5,668.3" fill="#404f70"/>
<polygon points="148.5,666.7 245.0,629.4 245.0,632.3 148.5,670.0" fill="#3e5368"/>
<polygon points="148.5,668.3 245.0,630.8 245.0,633.7 148.5,671.7" fill="#3b565f"/>
<polygon points="148.5,670.0 245.0,632.3 245.0,635.2 148.5,673.3" fill="#345953"/>
<polygon points="148.5,671.7 245.0,633.7 245.0,636.6 148.5,675.0" fill="#2c5b46"/>
<polygon points="148.5,673.3 245.0,635.2 245.0,638.1 148.5,676.7" fill="#255e3a"/>
<polygon points="148.5,675.0 245.0,636.6 245.0,639.5 148.5,678.3" fill="#1e602d"/>
<polygon points="148.5,676.7 245.0,638.1 245.0,641.0 148.5,680.0" fill="#176220"/>
<polygon points="148.5,678.3 245.0,639.5 245.0,642.4 148.5,681.7" fill="#106313"/>
<polygon points="148.5,680.0 245.0,641.0 245.0,643.9 148.5,683.3" fill="#0b6408"/>
<polygon points="148.5,681.7 245.0,642.4 245.0,645.3 148.5,685.0" fill="#156708"/>
<polygon points="148.5,683.3 245.0,643.9 245.0,646.8 148.5,686.6" fill="#1f6a08"/>
<polygon points="148.5,685.0 245.0,645.3 245.0,648.2 148.5,688.3" fill="#296d08"/>
<polygon points="148.5,686.6 245.0,646.8 245.0,649.7 148.5,690.0" fill="#337008"/>
<polygon points="148.5,688.3 245.0,648.2 245.0,651.1 148.5,691.6" fill="#3d7308"/>
<polygon points="148.5,690.0 245.0,649.7 245.0,652.6 148.5,693.3" fill="#487708"/>
<polygon points="148.5,691.6 245.0,651.1 245.0,654.0 148.5,695.0" fill="#537a08"/>
<polygon points="148.5,693.3 245.0,652.6 245.0,655.5 148.5,696.6" fill="#5e7d08"/>
<polygon points="148.5,695.0 245.0,654.0 245.0,656.9 148.5,698.3" fill="#698108"/>
<polygon points="148.5,696.6 245.0,655.5 245.0,658.4 148.5,700.0" fill="#748408"/>
<polygon points="148.5,698.3 245.0,656.9 245.0,659.8 148.5,701.6" fill="#7e8708"/>
<polygon points="148.5,700.0 245.0,658.4 245.0,661.3 148.5,703.3" fill="#878a08"/>
<polygon points="148.5,701.6 245.0,659.8 245.0,662.7 148.5,704.9" fill="#8f8c08"/>
<polygon points="148.5,703.3 245.0,661.3 245.0,664.2 148.5,706.6" fill="#988f08"/>
<polygon points="148.5,704.9 245.0,662.7 245.0,665.6 148.5,708.3" fill="#a19208"/>
<polygon points="148.5,706.6 245.0,664.2 245.0,667.1 148.5,709.9" fill="#aa9408"/>
<polygon points="148.5,708.3 245.0,665.6 245.0,668.5 148.5,711.6" fill="#b29608"/>
<polygon points="148.5,709.9 245.0,667.1 245.0,670.0 148.5,713.3" fill="#b99808"/>
<polygon points="148.5,711.6 245.0,668.5 245.0,671.4 148.5,714.9" fill="#c09a08"/>
<polygon points="148.5,713.3 245.0,670.0 245.0,672.9 148.5,716.6" fill="#c79b08"/>
<polygon points="148.5,714.9 245.0,671.4 245.0,674.3 148.5,718.2" fill="#cf9d08"/>
<polygon points="148.5,716.6 245.0,672.9 245.0,675.8 148.5,719.9" fill="#d69f08"/>
<polygon points="148.5,718.2 245.0,674.3 245.0,677.2 148.5,721.6" fill="#dda008"/>
<polygon points="148.5,719.9 245.0,675.8 245.0,678.7 148.5,723.2" fill="#e1a008"/>
<polygon points="148.5,721.6 245.0,677.2 245.0,680.1 148.5,724.9" fill="#e5a008"/>
<polygon points="148.5,723.2 245.0,678.7 245.0,681.6 148.5,726.6" fill="#e9a008"/>
<polygon points="148.5,724.9 245.0,680.1 245.0,683.0 148.5,728.2" fill="#ec9f08"/>
<polygon points="148.5,726.6 245.0,681.6 245.0,684.5 148.5,729.9" fill="#ed9b08"/>
<polygon points="148.5,728.2 245.0,683.0 245.0,685.9 148.5,731.6" fill="#ee9808"/>
<polygon points="148.5,729.9 245.0,684.5 245.0,687.4 148.5,733.2" fill="#ee9408"/>
<polygon points="148.5,731.6 245.0,685.9 245.0,688.8 148.5,734.9" fill="#ef9008"/>
<polygon points="148.5,733.2 245.0,687.4 245.0,690.3 148.5,736.5" fill="#ef8d08"/>
<polygon points="148.5,734.9 245.0,688.8 245.0,691.7 148.5,738.2" fill="#f08908"/>
<polygon points="148.5,736.5 245.0,690.3 245.0,693.2 148.5,739.9" fill="#f08408"/>
<polygon points="148.5,738.2 245.0,691.7 245.0,694.6 148.5,741.5" fill="#f07f08"/>
<polygon points="148.5,739.9 245.0,693.2 245.0,696.1 148.5,743.2" fill="#f07a08"/>
<polygon points="148.5,741.5 245.0,694.6 245.0,697.5 148.5,744.9" fill="#f07508"/>
<polygon points="148.5,743.2 245.0,696.1 245.0,699.0 148.5,746.5" fill="#f07008"/>
<polygon points="148.5,744.9 245.0,697.5 245.0,700.4 148.5,748.2" fill="#f06b08"/>
<polygon points="148.5,746.5 245.0,699.0 245.0,701.9 148.5,749.9" fill="#f06608"/>
<polygon points="148.5,748.2 245.0,700.4 245.0,703.3 148.5,751.5" fill="#f06108"/>
<polygon points="148.5,749.9 245.0,701.9 245.0,704.8 148.5,753.2" fill="#f05b08"/>
<polygon points="148.5,751.5 245.0,703.3 245.0,706.2 148.5,754.8" fill="#ef5508"/>
<polygon points="148.5,753.2 245.0,704.8 245.0,707.7 148.5,756.5" fill="#ef4f08"/>
<polygon points="148.5,754.8 245.0,706.2 245.0,709.1 148.5,758.2" fill="#ee4908"/>
<polygon points="148.5,756.5 245.0,707.7 245.0,710.6 148.5,759.8" fill="#ee4208"/>
<polygon points="148.5,758.2 245.0,709.1 245.0,712.0 148.5,761.5" fill="#ed3c08"/>
<polygon points="148.5,759.8 245.0,710.6 245.0,713.5 148.5,763.2" fill="#ec3608"/>
<polygon points="148.5,761.5 245.0,712.0 245.0,714.9 148.5,764.8" fill="#ec2f08"/>
<polygon points="148.5,763.2 245.0,713.5 245.0,716.4 148.5,766.5" fill="#eb2a08"/>
<polygon points="148.5,764.8 245.0,714.9 245.0,717.8 148.5,768.1" fill="#ea2408"/>
<polygon points="148.5,766.5 245.0,716.4 245.0,719.3 148.5,769.8" fill="#e91f08"/>
<polygon points="148.5,768.1 245.0,717.8 245.0,719.3 148.5,769.8" fill="#e81a08"/>
</g>
<path d="M176,627.2 L190.7,620.9" stroke="#1c16ff" stroke-width="1.5" fill="none"/>
<path d="M203.8,605.2 L224.7,600 L231.7,602.6" stroke="#1c16ff" stroke-width="1.6" fill="none"/>
<text font-family="'DejaVu Sans','Liberation Sans',sans-serif" font-size="10.4" text-anchor="middle" fill="#4a4a4a" transform="translate(56.2 733.0) rotate(-27)" y="3.7">0.1</text>
<text font-family="'DejaVu Sans','Liberation Sans',sans-serif" font-size="10.4" text-anchor="middle" fill="#4a4a4a" transform="translate(64.9 738.0) rotate(-27)" y="3.7">0.2</text>
<text font-family="'DejaVu Sans','Liberation Sans',sans-serif" font-size="10.4" text-anchor="middle" fill="#4a4a4a" transform="translate(73.9 743.2) rotate(-27)" y="3.7">0.3</text>
<text font-family="'DejaVu Sans','Liberation Sans',sans-serif" font-size="10.4" text-anchor="middle" fill="#4a4a4a" transform="translate(83.1 748.5) rotate(-27)" y="3.7">0.4</text>
<text font-family="'DejaVu Sans','Liberation Sans',sans-serif" font-size="10.4" text-anchor="middle" fill="#4a4a4a" transform="translate(92.5 753.9) rotate(-27)" y="3.7">0.5</text>
<text font-family="'DejaVu Sans','Liberation Sans',sans-serif" font-size="10.4" text-anchor="middle" fill="#4a4a4a" transform="translate(102.1 759.4) rotate(-27)" y="3.7">0.6</text>
<text font-family="'DejaVu Sans','Liberation Sans',sans-serif" font-size="10.4" text-anchor="middle" fill="#4a4a4a" transform="translate(111.9 765.1) rotate(-27)" y="3.7">0.7</text>
<text font-family="'DejaVu Sans','Liberation Sans',sans-serif" font-size="10.4" text-anchor="middle" fill="#4a4a4a" transform="translate(121.9 770.9) rotate(-27)" y="3.7">0.8</text>
<text font-family="'DejaVu Sans','Liberation Sans',sans-serif" font-size="10.4" text-anchor="middle" fill="#4a4a4a" transform="translate(132.2 776.8) rotate(-27)" y="3.7">0.9</text>
<text font-family="'DejaVu Sans','Liberation Sans',sans-serif" font-size="10.4" text-anchor="middle" fill="#4a4a4a" transform="translate(250.7 732.8) rotate(34)" y="3.7">0.1</text>
<text font-family="'DejaVu Sans','Liberation Sans',sans-serif" font-size="10.4" text-anchor="middle" fill="#4a4a4a" transform="translate(241.7 738.2) rotate(34)" y="3.7">0.2</text>
<text font-family="'DejaVu Sans','Liberation Sans',sans-serif" font-size="10.4" text-anchor="middle" fill="#4a4a4a" transform="translate(232.7 743.6) rotate(34)" y="3.7">0.3</text>
<text font-family="'DejaVu Sans','Liberation Sans',sans-serif" font-size="10.4" text-anchor="middle" fill="#4a4a4a" transform="translate(223.7 749.1) rotate(34)" y="3.7">0.4</text>
<text font-family="'DejaVu Sans','Liberation Sans',sans-serif" font-size="10.4" text-anchor="middle" fill="#4a4a4a" transform="translate(214.6 754.6) rotate(34)" y="3.7">0.5</text>
<text font-family="'DejaVu Sans','Liberation Sans',sans-serif" font-size="10.4" text-anchor="middle" fill="#4a4a4a" transform="translate(205.4 760.1) rotate(34)" y="3.7">0.6</text>
<text font-family="'DejaVu Sans','Liberation Sans',sans-serif" font-size="10.4" text-anchor="middle" fill="#4a4a4a" transform="translate(196.2 765.6) rotate(34)" y="3.7">0.7</text>
<text font-family="'DejaVu Sans','Liberation Sans',sans-serif" font-size="10.4" text-anchor="middle" fill="#4a4a4a" transform="translate(187.0 771.2) rotate(34)" y="3.7">0.8</text>
<text font-family="'DejaVu Sans','Liberation Sans',sans-serif" font-size="10.4" text-anchor="middle" fill="#4a4a4a" transform="translate(177.7 776.8) rotate(34)" y="3.7">0.9</text>
<text x="37.7" y="628.6" font-family="'DejaVu Sans','Liberation Sans',sans-serif" font-size="10.4" text-anchor="middle" fill="#4a4a4a" transform="rotate(-20 37.7 624.9)">0</text>
<text x="47.6" y="670.4" font-family="'DejaVu Sans','Liberation Sans',sans-serif" font-size="10.4" text-anchor="middle" fill="#4a4a4a" transform="rotate(-20 47.6 666.7)">−0.05</text>
<text x="51.5" y="712.6" font-family="'DejaVu Sans','Liberation Sans',sans-serif" font-size="10.4" text-anchor="middle" fill="#4a4a4a" transform="rotate(-20 51.5 708.9)">−0.1</text>
<text x="67.9" y="770.3" font-family="'DejaVu Sans','Liberation Sans',sans-serif" font-size="12" text-anchor="middle" fill="#4a4a4a" textLength="92.6" lengthAdjust="spacingAndGlyphs" transform="rotate(30.5 67.9 766)">Quantiles of CE</text>
<text x="242.1" y="769.3" font-family="'DejaVu Sans','Liberation Sans',sans-serif" font-size="12" text-anchor="middle" fill="#4a4a4a" textLength="100.4" lengthAdjust="spacingAndGlyphs" transform="rotate(-31.6 242.1 765)">Quantiles of EPU</text>
<line x1="413.6" y1="763.0" x2="499.6" y2="714.6" stroke="#e6e6e6" stroke-width="0.9"/>
<line x1="422.9" y1="768.8" x2="509.0" y2="719.7" stroke="#e6e6e6" stroke-width="0.9"/>
<line x1="432.3" y1="774.5" x2="518.5" y2="725.0" stroke="#e6e6e6" stroke-width="0.9"/>
<line x1="441.9" y1="780.4" x2="528.1" y2="730.2" stroke="#e6e6e6" stroke-width="0.9"/>
<line x1="451.5" y1="786.3" x2="537.8" y2="735.6" stroke="#e6e6e6" stroke-width="0.9"/>
<line x1="461.3" y1="792.3" x2="547.6" y2="741.0" stroke="#e6e6e6" stroke-width="0.9"/>
<line x1="471.2" y1="798.4" x2="557.6" y2="746.5" stroke="#e6e6e6" stroke-width="0.9"/>
<line x1="481.2" y1="804.6" x2="567.7" y2="752.0" stroke="#e6e6e6" stroke-width="0.9"/>
<line x1="491.4" y1="810.8" x2="577.9" y2="757.7" stroke="#e6e6e6" stroke-width="0.9"/>
<line x1="490.4" y1="714.6" x2="578.4" y2="763.3" stroke="#e6e6e6" stroke-width="0.9"/>
<line x1="481.2" y1="719.7" x2="569.2" y2="769.1" stroke="#e6e6e6" stroke-width="0.9"/>
<line x1="471.9" y1="724.9" x2="559.8" y2="774.8" stroke="#e6e6e6" stroke-width="0.9"/>
<line x1="462.5" y1="730.2" x2="550.4" y2="780.7" stroke="#e6e6e6" stroke-width="0.9"/>
<line x1="453.0" y1="735.5" x2="540.8" y2="786.6" stroke="#e6e6e6" stroke-width="0.9"/>
<line x1="443.4" y1="740.9" x2="531.2" y2="792.6" stroke="#e6e6e6" stroke-width="0.9"/>
<line x1="433.7" y1="746.3" x2="521.4" y2="798.6" stroke="#e6e6e6" stroke-width="0.9"/>
<line x1="423.9" y1="751.8" x2="511.5" y2="804.7" stroke="#e6e6e6" stroke-width="0.9"/>
<line x1="414.0" y1="757.4" x2="501.5" y2="810.9" stroke="#e6e6e6" stroke-width="0.9"/>
<line x1="490.9" y1="714.3" x2="491.2" y2="596.1" stroke="#e6e6e6" stroke-width="0.9"/>
<line x1="482.6" y1="718.9" x2="482.1" y2="598.9" stroke="#e6e6e6" stroke-width="0.9"/>
<line x1="474.0" y1="723.8" x2="472.7" y2="601.7" stroke="#e6e6e6" stroke-width="0.9"/>
<line x1="465.0" y1="728.8" x2="462.8" y2="604.7" stroke="#e6e6e6" stroke-width="0.9"/>
<line x1="455.7" y1="734.0" x2="452.6" y2="607.8" stroke="#e6e6e6" stroke-width="0.9"/>
<line x1="446.0" y1="739.4" x2="441.9" y2="611.1" stroke="#e6e6e6" stroke-width="0.9"/>
<line x1="436.0" y1="745.1" x2="430.7" y2="614.5" stroke="#e6e6e6" stroke-width="0.9"/>
<line x1="425.5" y1="750.9" x2="419.0" y2="618.0" stroke="#e6e6e6" stroke-width="0.9"/>
<line x1="414.6" y1="757.0" x2="406.8" y2="621.7" stroke="#e6e6e6" stroke-width="0.9"/>
<line x1="406.9" y1="726.6" x2="495.1" y2="682.8" stroke="#e6e6e6" stroke-width="0.9"/>
<line x1="404.8" y1="692.6" x2="495.3" y2="653.5" stroke="#e6e6e6" stroke-width="0.9"/>
<line x1="499.1" y1="714.3" x2="500.1" y2="596.1" stroke="#e6e6e6" stroke-width="0.9"/>
<line x1="507.6" y1="719.0" x2="509.4" y2="598.9" stroke="#e6e6e6" stroke-width="0.9"/>
<line x1="516.5" y1="723.8" x2="519.1" y2="601.7" stroke="#e6e6e6" stroke-width="0.9"/>
<line x1="525.6" y1="728.9" x2="529.1" y2="604.7" stroke="#e6e6e6" stroke-width="0.9"/>
<line x1="535.2" y1="734.1" x2="539.6" y2="607.8" stroke="#e6e6e6" stroke-width="0.9"/>
<line x1="545.1" y1="739.6" x2="550.6" y2="611.1" stroke="#e6e6e6" stroke-width="0.9"/>
<line x1="555.3" y1="745.3" x2="562.0" y2="614.4" stroke="#e6e6e6" stroke-width="0.9"/>
<line x1="566.1" y1="751.2" x2="574.0" y2="618.0" stroke="#e6e6e6" stroke-width="0.9"/>
<line x1="577.2" y1="757.3" x2="586.5" y2="621.7" stroke="#e6e6e6" stroke-width="0.9"/>
<line x1="495.1" y1="682.8" x2="585.5" y2="726.8" stroke="#e6e6e6" stroke-width="0.9"/>
<line x1="495.3" y1="653.5" x2="588.0" y2="692.7" stroke="#e6e6e6" stroke-width="0.9"/>
<line x1="402.6" y1="656.8" x2="495.5" y2="622.9" stroke="#969696" stroke-width="0.75"/>
<line x1="495.5" y1="622.9" x2="590.6" y2="656.8" stroke="#969696" stroke-width="0.75"/>
<g clip-path="url(#cF1)">
<polygon points="409.3,675.8 475.0,658.5 475.0,661.6 409.3,678.8" fill="#105d0c"/>
<polygon points="409.3,677.3 475.0,660.0 475.0,663.1 409.3,680.4" fill="#135e0b"/>
<polygon points="409.3,678.8 475.0,661.6 475.0,664.6 409.3,681.9" fill="#17600b"/>
<polygon points="409.3,680.4 475.0,663.1 475.0,666.1 409.3,683.4" fill="#1a620b"/>
<polygon points="409.3,681.9 475.0,664.6 475.0,667.7 409.3,684.9" fill="#1e640a"/>
<polygon points="409.3,683.4 475.0,666.1 475.0,669.2 409.3,686.5" fill="#26650a"/>
<polygon points="409.3,684.9 475.0,667.7 475.0,670.7 409.3,688.0" fill="#316709"/>
<polygon points="409.3,686.5 475.0,669.2 475.0,672.2 409.3,689.5" fill="#3c6909"/>
<polygon points="409.3,688.0 475.0,670.7 475.0,673.8 409.3,691.0" fill="#466b09"/>
<polygon points="409.3,689.5 475.0,672.2 475.0,675.3 409.3,692.6" fill="#516d08"/>
<polygon points="409.3,691.0 475.0,673.8 475.0,676.8 409.3,694.1" fill="#5a6f08"/>
<polygon points="409.3,692.6 475.0,675.3 475.0,678.3 409.3,695.6" fill="#637208"/>
<polygon points="409.3,694.1 475.0,676.8 475.0,679.9 409.3,697.1" fill="#6c7508"/>
<polygon points="409.3,695.6 475.0,678.3 475.0,681.4 409.3,698.7" fill="#747708"/>
<polygon points="409.3,697.1 475.0,679.9 475.0,682.9 409.3,700.2" fill="#7d7a08"/>
<polygon points="409.3,698.7 475.0,681.4 475.0,684.4 409.3,701.7" fill="#867d08"/>
<polygon points="409.3,700.2 475.0,682.9 475.0,686.0 409.3,703.2" fill="#8e7f08"/>
<polygon points="409.3,701.7 475.0,684.4 475.0,687.5 409.3,704.8" fill="#968108"/>
<polygon points="409.3,703.2 475.0,686.0 475.0,689.0 409.3,706.3" fill="#9d8308"/>
<polygon points="409.3,704.8 475.0,687.5 475.0,690.5 409.3,707.8" fill="#a58508"/>
<polygon points="409.3,706.3 475.0,689.0 475.0,692.1 409.3,709.3" fill="#ac8708"/>
<polygon points="409.3,707.8 475.0,690.5 475.0,693.6 409.3,710.9" fill="#b48908"/>
<polygon points="409.3,709.3 475.0,692.1 475.0,695.1 409.3,712.4" fill="#bc8a08"/>
<polygon points="409.3,710.9 475.0,693.6 475.0,696.6 409.3,713.9" fill="#c28c08"/>
<polygon points="409.3,712.4 475.0,695.1 475.0,698.2 409.3,715.4" fill="#ca8c08"/>
<polygon points="409.3,713.9 475.0,696.6 475.0,699.7 409.3,717.0" fill="#d08e08"/>
<polygon points="409.3,715.4 475.0,698.2 475.0,701.2 409.3,718.5" fill="#d58d08"/>
<polygon points="409.3,717.0 475.0,699.7 475.0,702.7 409.3,720.0" fill="#d88a08"/>
<polygon points="409.3,718.5 475.0,701.2 475.0,704.3 409.3,721.5" fill="#da8808"/>
<polygon points="409.3,720.0 475.0,702.7 475.0,705.8 409.3,723.1" fill="#dd8508"/>
<polygon points="409.3,721.5 475.0,704.3 475.0,707.3 409.3,724.6" fill="#dd8108"/>
<polygon points="409.3,723.1 475.0,705.8 475.0,708.8 409.3,726.1" fill="#dc7a09"/>
<polygon points="409.3,724.6 475.0,707.3 475.0,710.4 409.3,727.6" fill="#db7409"/>
<polygon points="409.3,726.1 475.0,708.8 475.0,711.9 409.3,729.2" fill="#da6d09"/>
<polygon points="409.3,727.6 475.0,710.4 475.0,713.4 409.3,730.7" fill="#d9670a"/>
<polygon points="409.3,729.2 475.0,711.9 475.0,714.9 409.3,732.2" fill="#d7600a"/>
<polygon points="409.3,730.7 475.0,713.4 475.0,716.5 409.3,733.7" fill="#d55b0b"/>
<polygon points="409.3,732.2 475.0,714.9 475.0,718.0 409.3,735.3" fill="#d2560b"/>
<polygon points="409.3,733.7 475.0,716.5 475.0,719.5 409.3,736.8" fill="#d0520b"/>
<polygon points="409.3,735.3 475.0,718.0 475.0,721.0 409.3,738.3" fill="#cd4c0c"/>
<polygon points="409.3,736.8 475.0,719.5 475.0,722.6 409.3,739.8" fill="#cc490c"/>
<polygon points="409.3,738.3 475.0,721.0 475.0,724.1 409.3,741.4" fill="#ca480c"/>
<polygon points="409.3,739.8 475.0,722.6 475.0,725.6 409.3,742.9" fill="#ca460c"/>
<polygon points="409.3,741.4 475.0,724.1 475.0,725.6 409.3,742.9" fill="#c8450c"/>
</g>
<g clip-path="url(#cF2)">
<path d="M412.3,676.0 L419.0,664.5 L425.6,659.8 L438.0,660.7 L451.2,655.0 L456.0,638.0 L456.9,630.4 L462.6,635.1 L466.4,634.2 L471.2,641.8 L475.9,636.1 L480.7,620.9 L484.5,628.5 L489.2,618.0 L493.0,628.5 L495.8,631.3 L503.5,606.6 L509.0,626.5 L513.8,640.5 L518.5,645.5 L525.1,643.7 L530.8,635.1 L535.5,635.1 L539.3,639.9 L544.7,627.5 L548.8,639.9 L553.6,655.0 L558.3,656.0 L565.9,653.1 L571.6,647.4 L575.8,643.7 L580.1,652.2 L573.5,655.0 L565.9,660.7 L560.2,670.2 L554.5,675.9 L549.8,672.1 L545.0,674.0 L540.3,673.1 L535.5,675.9 L532.7,687.3 L529.5,693.9 L526.1,687.3 L520.4,698.7 L509.9,705.3 L504.2,694.9 L497.6,689.2 L489.2,691.1 L484.5,696.8 L475.9,697.7 L470.2,685.4 L463.6,680.7 L456.9,683.5 L450.3,691.1 L440.8,683.5 L435.1,688.3 L428.5,679.7 L419.0,674.0Z" fill="url(#gF0)"/>
<path d="M411,677 L419,665 L426,660 L438,661 L451,655 L457,648 L470,649 L480,654 L495,654 L505,649 L515,647 L521,655 L500,665 L480,668 L462,662 L455,672 L450,692 L440,684 L435,689 L428,680 L419,675Z" fill="#476a5c" filter="url(#b1)"/>
<path d="M420,668 L432,663 L446,662 L452,658 L456,664 L446,670 L430,672Z" fill="#5e7c72" opacity="0.7" filter="url(#b2)"/>
<path d="M455,674 L462,655 L475,652 L492,655 L501,651 L499,660 L486,666 L470,669 L462,682Z" fill="#1a6a18" filter="url(#b2)"/>
<path d="M412,677 L419,674 L428.5,679.7 L435.1,688.3 L440.8,683.5 L450.3,691.1 L456.9,683.5 L463.6,680.7" fill="none" stroke="#12620f" stroke-width="6" filter="url(#b1)"/>
<path d="M455,673 L460.7,658 L466.4,664.5 L475.9,667.4 L485.4,664.5 L498.7,656.9 L502.5,647.4 L513.9,649.3 L521.5,643.7 L530,639.9 L536,636 L545,630 L549,641 L552,655 L540,660 L520,668 L500,676 L485,684 L476,696 L470,685 L463,680Z" fill="url(#gF1)" filter="url(#b1)"/>
<path d="M458,664 L460.7,658.5 L466.4,665 L475.9,667.9 L485.4,665 L498.7,657.4 L502.5,648 L513.9,649.8 L521.5,644.2 L530,640.4 L536,636.5" fill="none" stroke="#5446cc" stroke-width="1.6" opacity="0.6" filter="url(#b1)"/>
<path d="M476,697 L484.5,696 L490,683 L496.8,671.2 L502.5,685.4 L513.9,679.7 L530,670.2 L545,662 L560,655 L575.8,644 L581,653 L560,671 L554,677 L545,675 L536,677 L530,694 L526,688 L520,699 L510,706 L504,695 L497,690 L489,692Z" fill="url(#gF2)" filter="url(#b1)"/>
<path d="M490,684 L496.8,672 L502.5,686 L513.9,680.3 L530,670.8 L545,662.6 L560,655.6 L575.8,644.6" fill="none" stroke="#5446cc" stroke-width="1.6" opacity="0.6" filter="url(#b1)"/>
<path d="M556,657 L568,651 L576,645 L580,652 L572,656 L562,662Z" fill="#5a52a8" filter="url(#b1)"/>
<polygon points="455.9,636.0 456.9,630.4 459.0,634.5" fill="#2a1ef2" opacity="0.9"/>
<polygon points="479.2,627.0 480.7,620.9 482.4,626.0" fill="#2a1ef2" opacity="0.9"/>
<polygon points="487.7,624.0 489.2,618.0 490.7,624.0" fill="#2a1ef2" opacity="0.9"/>
<polygon points="501.4,616.0 503.5,606.6 505.6,616.0" fill="#2a1ef2" opacity="0.9"/>
<polygon points="543.2,633.0 544.7,627.5 546.4,633.0" fill="#2a1ef2" opacity="0.9"/>
<polygon points="458.6,663.5 460.7,657.9 463.4,662.5" fill="#2a1ef2" opacity="0.9"/>
<polygon points="494.4,677.0 496.8,671.2 499.4,678.0" fill="#2a1ef2" opacity="0.9"/>
</g>
<text font-family="'DejaVu Sans','Liberation Sans',sans-serif" font-size="9.4" text-anchor="middle" fill="#4a4a4a" transform="translate(403.9 770.7) rotate(-29)" y="3.4">0.1</text>
<text font-family="'DejaVu Sans','Liberation Sans',sans-serif" font-size="9.4" text-anchor="middle" fill="#4a4a4a" transform="translate(411.8 776.0) rotate(-29)" y="3.4">0.2</text>
<text font-family="'DejaVu Sans','Liberation Sans',sans-serif" font-size="9.4" text-anchor="middle" fill="#4a4a4a" transform="translate(420.0 781.6) rotate(-29)" y="3.4">0.3</text>
<text font-family="'DejaVu Sans','Liberation Sans',sans-serif" font-size="9.4" text-anchor="middle" fill="#4a4a4a" transform="translate(428.5 787.4) rotate(-29)" y="3.4">0.4</text>
<text font-family="'DejaVu Sans','Liberation Sans',sans-serif" font-size="9.4" text-anchor="middle" fill="#4a4a4a" transform="translate(437.4 793.5) rotate(-29)" y="3.4">0.5</text>
<text font-family="'DejaVu Sans','Liberation Sans',sans-serif" font-size="9.4" text-anchor="middle" fill="#4a4a4a" transform="translate(446.7 799.8) rotate(-29)" y="3.4">0.6</text>
<text font-family="'DejaVu Sans','Liberation Sans',sans-serif" font-size="9.4" text-anchor="middle" fill="#4a4a4a" transform="translate(456.3 806.3) rotate(-29)" y="3.4">0.7</text>
<text font-family="'DejaVu Sans','Liberation Sans',sans-serif" font-size="9.4" text-anchor="middle" fill="#4a4a4a" transform="translate(466.3 813.1) rotate(-29)" y="3.4">0.8</text>
<text font-family="'DejaVu Sans','Liberation Sans',sans-serif" font-size="9.4" text-anchor="middle" fill="#4a4a4a" transform="translate(476.6 820.1) rotate(-29)" y="3.4">0.9</text>
<text font-family="'DejaVu Sans','Liberation Sans',sans-serif" font-size="9.4" text-anchor="middle" fill="#4a4a4a" transform="translate(585.8 770.1) rotate(36)" y="3.4">0.1</text>
<text font-family="'DejaVu Sans','Liberation Sans',sans-serif" font-size="9.4" text-anchor="middle" fill="#4a4a4a" transform="translate(578.1 775.7) rotate(36)" y="3.4">0.2</text>
<text font-family="'DejaVu Sans','Liberation Sans',sans-serif" font-size="9.4" text-anchor="middle" fill="#4a4a4a" transform="translate(570.2 781.5) rotate(36)" y="3.4">0.3</text>
<text font-family="'DejaVu Sans','Liberation Sans',sans-serif" font-size="9.4" text-anchor="middle" fill="#4a4a4a" transform="translate(562.1 787.5) rotate(36)" y="3.4">0.4</text>
<text font-family="'DejaVu Sans','Liberation Sans',sans-serif" font-size="9.4" text-anchor="middle" fill="#4a4a4a" transform="translate(553.7 793.6) rotate(36)" y="3.4">0.5</text>
<text font-family="'DejaVu Sans','Liberation Sans',sans-serif" font-size="9.4" text-anchor="middle" fill="#4a4a4a" transform="translate(545.0 800.0) rotate(36)" y="3.4">0.6</text>
<text font-family="'DejaVu Sans','Liberation Sans',sans-serif" font-size="9.4" text-anchor="middle" fill="#4a4a4a" transform="translate(536.1 806.5) rotate(36)" y="3.4">0.7</text>
<text font-family="'DejaVu Sans','Liberation Sans',sans-serif" font-size="9.4" text-anchor="middle" fill="#4a4a4a" transform="translate(526.9 813.2) rotate(36)" y="3.4">0.8</text>
<text font-family="'DejaVu Sans','Liberation Sans',sans-serif" font-size="9.4" text-anchor="middle" fill="#4a4a4a" transform="translate(517.5 820.1) rotate(36)" y="3.4">0.9</text>
<text x="386.9" y="663.1" font-family="'DejaVu Sans','Liberation Sans',sans-serif" font-size="9" text-anchor="middle" fill="#4a4a4a" transform="rotate(-24 386.9 659.8)">0</text>
<text x="391.4" y="699.5" font-family="'DejaVu Sans','Liberation Sans',sans-serif" font-size="9" text-anchor="middle" fill="#4a4a4a" transform="rotate(-24 391.4 696.2)">−0.0005</text>
<text x="394.8" y="733.9" font-family="'DejaVu Sans','Liberation Sans',sans-serif" font-size="9" text-anchor="middle" fill="#4a4a4a" transform="rotate(-24 394.8 730.6)">−0.001</text>
<text x="397.8" y="764.1" font-family="'DejaVu Sans','Liberation Sans',sans-serif" font-size="9" text-anchor="middle" fill="#4a4a4a" transform="rotate(-24 397.8 760.8)">−0.0015</text>
<text x="369.3" y="716.3" font-family="'DejaVu Sans','Liberation Sans',sans-serif" font-size="10.6" text-anchor="middle" fill="#4a4a4a" textLength="37" lengthAdjust="spacingAndGlyphs" transform="rotate(79.9 369.3 712.5)">Alpha3</text>
<text x="417.5" y="809.5" font-family="'DejaVu Sans','Liberation Sans',sans-serif" font-size="10.6" text-anchor="middle" fill="#4a4a4a" textLength="81" lengthAdjust="spacingAndGlyphs" transform="rotate(34.5 417.5 805.6)">Quantiles of CE</text>
<text x="576.6" y="809.1" font-family="'DejaVu Sans','Liberation Sans',sans-serif" font-size="10.6" text-anchor="middle" fill="#4a4a4a" textLength="87.3" lengthAdjust="spacingAndGlyphs" transform="rotate(-36.5 576.6 805.2)">Quantiles of EPU</text></svg></body></html>
